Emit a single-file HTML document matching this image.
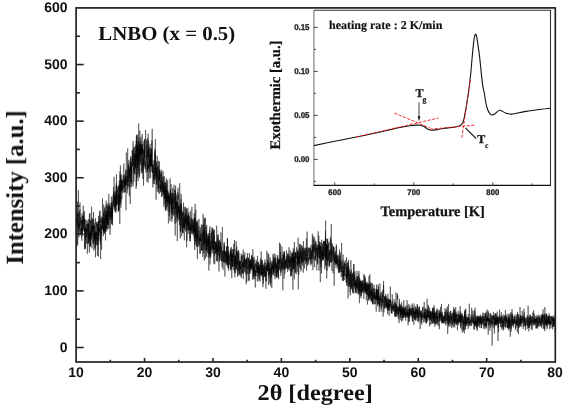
<!DOCTYPE html>
<html><head><meta charset="utf-8"><style>
html,body{margin:0;padding:0;background:#fff;overflow:hidden;}
svg{display:block;}
text{text-rendering:geometricPrecision;}
.sans{font-family:"Liberation Sans",sans-serif;font-weight:bold;}
.serif{font-family:"Liberation Serif",serif;font-weight:bold;}
</style></head><body>
<svg width="567" height="407" viewBox="0 0 567 407">
<defs><filter id="gs" x="0" y="0" width="567" height="407" filterUnits="userSpaceOnUse"><feColorMatrix type="saturate" values="0"/></filter></defs>
<rect width="567" height="407" fill="#fff"/>
<polyline points="76.1,219.0 76.4,228.3 76.6,219.3 76.9,225.0 77.2,219.1 77.5,211.8 77.7,244.7 78.0,224.2 78.3,220.1 78.6,226.7 78.8,237.5 79.1,228.2 79.4,223.0 79.7,224.1 79.9,234.0 80.2,235.0 80.5,227.7 80.8,234.6 81.0,226.0 81.3,220.5 81.6,223.1 81.8,237.3 82.1,219.4 82.4,231.9 82.7,230.3 82.9,219.9 83.2,228.3 83.5,229.4 83.8,229.5 84.0,230.5 84.3,228.0 84.6,219.0 84.9,238.8 85.1,247.6 85.4,228.1 85.7,234.5 86.0,231.2 86.2,224.1 86.5,229.8 86.8,236.4 87.0,229.8 87.3,253.8 87.6,246.3 87.9,223.3 88.1,229.8 88.4,219.2 88.7,233.5 89.0,236.6 89.2,239.4 89.5,233.1 89.8,238.5 90.1,232.0 90.3,246.4 90.6,239.5 90.9,236.9 91.2,234.1 91.4,225.8 91.7,237.9 92.0,233.7 92.2,219.2 92.5,232.4 92.8,226.3 93.1,231.9 93.3,228.3 93.6,225.5 93.9,228.2 94.2,223.3 94.4,240.9 94.7,227.0 95.0,247.4 95.3,240.7 95.5,257.4 95.8,231.7 96.1,243.0 96.4,244.9 96.6,232.4 96.9,239.1 97.2,229.7 97.5,229.7 97.7,223.7 98.0,245.2 98.3,231.8 98.5,221.0 98.8,241.0 99.1,237.2 99.4,229.8 99.6,220.7 99.9,230.4 100.2,225.1 100.5,224.2 100.7,240.5 101.0,236.9 101.3,231.9 101.6,249.6 101.8,226.8 102.1,228.6 102.4,227.0 102.7,229.3 102.9,220.4 103.2,227.9 103.5,213.4 103.7,230.6 104.0,219.7 104.3,233.5 104.6,226.7 104.8,221.0 105.1,228.3 105.4,217.7 105.7,214.7 105.9,220.4 106.2,200.6 106.5,228.0 106.8,226.4 107.0,211.1 107.3,214.3 107.6,224.7 107.9,205.6 108.1,224.7 108.4,217.1 108.7,217.4 108.9,214.7 109.2,208.0 109.5,206.6 109.8,205.3 110.0,228.7 110.3,206.9 110.6,219.8 110.9,211.6 111.1,217.2 111.4,196.6 111.7,208.7 112.0,224.6 112.2,207.8 112.5,225.4 112.8,200.8 113.1,201.6 113.3,196.8 113.6,191.9 113.9,206.6 114.1,176.8 114.4,207.6 114.7,204.0 115.0,190.9 115.2,205.4 115.5,205.8 115.8,212.8 116.1,185.6 116.3,206.0 116.6,201.1 116.9,193.0 117.2,190.5 117.4,196.5 117.7,195.0 118.0,195.5 118.3,211.8 118.5,193.3 118.8,206.3 119.1,188.3 119.3,185.4 119.6,205.0 119.9,171.4 120.2,191.1 120.4,165.5 120.7,204.0 121.0,178.8 121.3,191.3 121.5,181.2 121.8,199.2 122.1,194.4 122.4,191.5 122.6,190.0 122.9,186.7 123.2,185.2 123.5,186.0 123.7,191.2 124.0,192.6 124.3,180.1 124.5,192.4 124.8,179.2 125.1,180.1 125.4,185.9 125.6,178.4 125.9,184.3 126.2,184.4 126.5,175.9 126.7,181.8 127.0,172.6 127.3,171.9 127.6,170.0 127.8,189.4 128.1,164.8 128.4,164.0 128.7,167.7 128.9,178.0 129.2,170.3 129.5,172.9 129.7,177.7 130.0,169.5 130.3,170.3 130.6,158.8 130.8,163.7 131.1,161.8 131.4,187.2 131.7,184.3 131.9,157.4 132.2,165.8 132.5,166.3 132.8,150.2 133.0,161.3 133.3,163.9 133.6,164.8 133.9,147.9 134.1,172.9 134.4,154.6 134.7,170.1 134.9,173.5 135.2,153.7 135.5,161.2 135.8,167.5 136.0,151.1 136.3,156.6 136.6,155.0 136.9,160.2 137.1,134.3 137.4,138.1 137.7,153.9 138.0,181.1 138.2,163.0 138.5,146.6 138.8,164.5 139.1,141.0 139.3,157.6 139.6,176.3 139.9,130.6 140.2,148.2 140.4,156.6 140.7,145.1 141.0,136.8 141.2,173.1 141.5,149.5 141.8,170.9 142.1,158.0 142.3,173.6 142.6,145.8 142.9,179.0 143.2,159.7 143.4,148.7 143.7,155.8 144.0,161.5 144.3,155.0 144.5,142.4 144.8,138.9 145.1,158.3 145.4,156.6 145.6,130.0 145.9,150.6 146.2,157.7 146.4,155.1 146.7,155.3 147.0,181.8 147.3,150.5 147.5,171.8 147.8,164.0 148.1,182.7 148.4,164.8 148.6,140.5 148.9,169.4 149.2,153.9 149.5,160.9 149.7,161.4 150.0,154.0 150.3,157.0 150.6,178.1 150.8,158.9 151.1,161.0 151.4,166.1 151.6,162.3 151.9,171.8 152.2,128.8 152.5,172.6 152.7,170.7 153.0,177.5 153.3,183.7 153.6,170.4 153.8,160.3 154.1,176.6 154.4,184.1 154.7,167.8 154.9,158.7 155.2,148.6 155.5,172.2 155.8,180.2 156.0,172.4 156.3,170.4 156.6,167.8 156.8,171.8 157.1,184.8 157.4,166.9 157.7,178.8 157.9,188.5 158.2,187.8 158.5,188.3 158.8,170.9 159.0,180.8 159.3,178.7 159.6,169.0 159.9,178.3 160.1,173.6 160.4,191.4 160.7,175.3 161.0,171.0 161.2,184.8 161.5,169.7 161.8,171.3 162.0,187.9 162.3,189.4 162.6,192.0 162.9,192.6 163.1,186.7 163.4,176.9 163.7,177.5 164.0,195.5 164.2,176.0 164.5,197.9 164.8,182.6 165.1,184.0 165.3,210.6 165.6,181.6 165.9,187.4 166.2,208.2 166.4,194.3 166.7,183.3 167.0,189.5 167.2,197.0 167.5,202.0 167.8,189.9 168.1,191.6 168.3,193.8 168.6,203.8 168.9,196.6 169.2,216.2 169.4,193.7 169.7,200.5 170.0,221.0 170.3,206.0 170.5,190.7 170.8,203.1 171.1,184.2 171.4,209.0 171.6,193.0 171.9,221.9 172.2,205.9 172.4,215.0 172.7,187.9 173.0,205.9 173.3,208.6 173.5,208.2 173.8,216.3 174.1,209.5 174.4,189.5 174.6,191.6 174.9,206.7 175.2,235.6 175.5,207.9 175.7,207.8 176.0,206.6 176.3,204.4 176.6,200.5 176.8,195.6 177.1,206.4 177.4,219.1 177.7,214.3 177.9,201.8 178.2,221.2 178.5,211.6 178.7,206.4 179.0,212.4 179.3,219.1 179.6,219.8 179.8,210.7 180.1,226.6 180.4,231.9 180.7,205.3 180.9,198.9 181.2,218.2 181.5,203.4 181.8,208.8 182.0,215.1 182.3,215.5 182.6,233.0 182.9,218.1 183.1,222.6 183.4,224.9 183.7,227.8 183.9,212.9 184.2,240.4 184.5,240.1 184.8,223.2 185.0,219.4 185.3,221.3 185.6,218.2 185.9,223.9 186.1,212.9 186.4,222.1 186.7,219.0 187.0,240.8 187.2,215.3 187.5,224.0 187.8,224.2 188.1,224.4 188.3,234.0 188.6,212.1 188.9,219.0 189.1,230.2 189.4,219.6 189.7,216.5 190.0,238.5 190.2,227.7 190.5,231.2 190.8,223.9 191.1,219.7 191.3,231.2 191.6,214.7 191.9,206.9 192.2,225.1 192.4,219.5 192.7,226.2 193.0,224.9 193.3,232.7 193.5,229.4 193.8,218.5 194.1,233.2 194.3,218.3 194.6,217.0 194.9,244.7 195.2,235.8 195.4,218.6 195.7,232.5 196.0,235.7 196.3,245.1 196.5,230.3 196.8,221.9 197.1,236.7 197.4,259.1 197.6,220.5 197.9,242.1 198.2,233.2 198.5,229.3 198.7,224.6 199.0,218.9 199.3,232.7 199.5,231.0 199.8,234.6 200.1,247.5 200.4,253.3 200.6,233.7 200.9,240.9 201.2,238.4 201.5,250.4 201.7,233.4 202.0,233.3 202.3,232.9 202.6,240.1 202.8,256.9 203.1,213.8 203.4,246.0 203.7,230.7 203.9,232.6 204.2,219.0 204.5,244.8 204.7,226.6 205.0,242.4 205.3,238.9 205.6,240.7 205.8,240.6 206.1,242.8 206.4,244.0 206.7,224.9 206.9,251.1 207.2,234.0 207.5,246.7 207.8,235.8 208.0,236.4 208.3,258.0 208.6,244.1 208.9,237.5 209.1,249.6 209.4,235.8 209.7,252.5 209.9,257.2 210.2,252.0 210.5,243.0 210.8,240.8 211.0,244.3 211.3,241.4 211.6,231.6 211.9,246.0 212.1,250.2 212.4,239.8 212.7,243.7 213.0,228.5 213.2,248.1 213.5,231.5 213.8,250.3 214.1,250.4 214.3,235.6 214.6,242.8 214.9,244.3 215.1,241.3 215.4,243.5 215.7,244.2 216.0,253.7 216.2,243.4 216.5,241.0 216.8,249.8 217.1,260.8 217.3,261.5 217.6,250.4 217.9,249.0 218.2,253.4 218.4,234.6 218.7,259.2 219.0,271.5 219.3,253.5 219.5,257.3 219.8,239.8 220.1,251.9 220.4,251.7 220.6,255.0 220.9,232.5 221.2,247.2 221.4,257.7 221.7,261.3 222.0,250.5 222.3,252.9 222.5,255.6 222.8,260.0 223.1,269.8 223.4,259.2 223.6,254.2 223.9,247.2 224.2,242.0 224.5,245.1 224.7,253.2 225.0,263.2 225.3,263.3 225.6,261.9 225.8,260.8 226.1,252.5 226.4,264.5 226.6,247.6 226.9,246.2 227.2,265.9 227.5,238.1 227.7,260.9 228.0,255.7 228.3,246.5 228.6,268.2 228.8,260.5 229.1,260.5 229.4,259.0 229.7,264.2 229.9,261.0 230.2,258.3 230.5,248.6 230.8,249.6 231.0,269.1 231.3,262.3 231.6,253.3 231.8,263.0 232.1,266.6 232.4,253.8 232.7,265.5 232.9,249.1 233.2,257.6 233.5,252.2 233.8,250.5 234.0,258.9 234.3,262.1 234.6,256.0 234.9,277.3 235.1,266.3 235.4,255.1 235.7,272.8 236.0,253.7 236.2,241.1 236.5,264.2 236.8,246.6 237.0,255.1 237.3,251.5 237.6,276.9 237.9,265.5 238.1,266.4 238.4,257.8 238.7,251.4 239.0,255.7 239.2,266.3 239.5,262.5 239.8,273.6 240.1,260.7 240.3,269.1 240.6,276.2 240.9,266.9 241.2,272.9 241.4,278.0 241.7,270.6 242.0,271.7 242.2,262.4 242.5,266.9 242.8,254.5 243.1,251.6 243.3,249.5 243.6,257.4 243.9,254.6 244.2,263.4 244.4,257.6 244.7,268.0 245.0,272.7 245.3,271.7 245.5,261.8 245.8,259.1 246.1,268.1 246.4,263.6 246.6,258.3 246.9,262.3 247.2,264.4 247.4,253.0 247.7,266.5 248.0,269.0 248.3,267.5 248.5,257.5 248.8,262.9 249.1,262.3 249.4,266.6 249.6,262.7 249.9,273.6 250.2,261.3 250.5,260.6 250.7,267.5 251.0,266.0 251.3,264.0 251.6,267.6 251.8,270.1 252.1,264.1 252.4,265.1 252.6,265.9 252.9,249.0 253.2,272.6 253.5,268.1 253.7,276.4 254.0,266.9 254.3,273.4 254.6,265.4 254.8,269.2 255.1,275.3 255.4,263.7 255.7,265.8 255.9,264.7 256.2,263.4 256.5,272.9 256.8,276.0 257.0,274.4 257.3,281.5 257.6,274.2 257.9,263.2 258.1,273.5 258.4,277.3 258.7,267.3 258.9,273.6 259.2,268.1 259.5,268.6 259.8,268.8 260.0,272.3 260.3,275.2 260.6,275.0 260.9,263.0 261.1,264.5 261.4,275.9 261.7,267.3 262.0,265.1 262.2,259.8 262.5,269.9 262.8,264.9 263.1,278.6 263.3,283.8 263.6,272.0 263.9,274.9 264.1,274.6 264.4,272.0 264.7,264.7 265.0,259.4 265.2,276.7 265.5,271.7 265.8,274.2 266.1,276.5 266.3,281.3 266.6,275.3 266.9,250.7 267.2,264.7 267.4,264.1 267.7,270.9 268.0,253.0 268.3,274.9 268.5,285.1 268.8,254.4 269.1,266.0 269.3,262.4 269.6,268.3 269.9,278.2 270.2,276.4 270.4,269.5 270.7,265.8 271.0,260.6 271.3,277.9 271.5,270.8 271.8,288.1 272.1,263.7 272.4,267.8 272.6,264.8 272.9,254.1 273.2,261.1 273.5,273.6 273.7,256.6 274.0,264.1 274.3,258.2 274.5,265.0 274.8,258.0 275.1,279.1 275.4,271.9 275.6,257.9 275.9,273.5 276.2,271.1 276.5,277.9 276.7,266.3 277.0,270.4 277.3,277.2 277.6,266.3 277.8,254.9 278.1,271.4 278.4,278.1 278.7,264.3 278.9,259.8 279.2,268.2 279.5,242.7 279.7,263.2 280.0,259.7 280.3,256.9 280.6,252.3 280.8,275.8 281.1,268.7 281.4,266.8 281.7,264.3 281.9,246.4 282.2,269.3 282.5,261.8 282.8,254.9 283.0,254.4 283.3,260.4 283.6,254.9 283.9,263.4 284.1,278.7 284.4,251.6 284.7,267.7 284.9,273.8 285.2,266.7 285.5,265.1 285.8,265.6 286.0,268.7 286.3,259.7 286.6,266.4 286.9,266.8 287.1,261.3 287.4,254.5 287.7,267.0 288.0,269.1 288.2,261.3 288.5,269.4 288.8,254.6 289.1,263.6 289.3,267.6 289.6,262.1 289.9,261.4 290.1,256.0 290.4,265.7 290.7,263.1 291.0,257.0 291.2,258.6 291.5,275.8 291.8,257.8 292.1,272.2 292.3,255.3 292.6,252.9 292.9,289.8 293.2,253.8 293.4,258.6 293.7,268.6 294.0,250.5 294.3,268.1 294.5,258.8 294.8,261.7 295.1,261.4 295.3,252.5 295.6,263.2 295.9,265.6 296.2,274.3 296.4,266.8 296.7,260.0 297.0,255.5 297.3,253.8 297.5,265.9 297.8,260.2 298.1,237.7 298.4,251.6 298.6,261.5 298.9,263.6 299.2,257.2 299.5,267.9 299.7,244.3 300.0,249.7 300.3,248.3 300.6,255.4 300.8,267.2 301.1,271.5 301.4,267.1 301.6,255.6 301.9,263.3 302.2,253.2 302.5,261.2 302.7,256.6 303.0,250.9 303.3,272.7 303.6,254.8 303.8,255.4 304.1,248.7 304.4,252.0 304.7,253.3 304.9,248.0 305.2,247.7 305.5,254.3 305.8,255.9 306.0,248.1 306.3,255.8 306.6,270.7 306.8,259.4 307.1,231.6 307.4,256.0 307.7,254.3 307.9,257.0 308.2,262.1 308.5,257.2 308.8,264.5 309.0,252.1 309.3,249.1 309.6,250.1 309.9,248.7 310.1,251.1 310.4,253.2 310.7,245.5 311.0,254.3 311.2,258.3 311.5,253.1 311.8,253.0 312.0,249.1 312.3,233.6 312.6,240.1 312.9,270.1 313.1,246.2 313.4,251.5 313.7,253.3 314.0,260.6 314.2,256.8 314.5,267.2 314.8,262.1 315.1,244.0 315.3,249.8 315.6,258.0 315.9,247.3 316.2,249.8 316.4,249.6 316.7,248.8 317.0,245.9 317.2,247.2 317.5,264.3 317.8,248.0 318.1,256.0 318.3,257.2 318.6,245.3 318.9,248.5 319.2,258.3 319.4,246.4 319.7,254.1 320.0,246.5 320.3,246.8 320.5,247.6 320.8,251.1 321.1,242.7 321.4,261.7 321.6,252.3 321.9,254.7 322.2,258.7 322.4,256.0 322.7,252.7 323.0,260.3 323.3,244.3 323.5,243.2 323.8,241.1 324.1,246.1 324.4,245.3 324.6,241.5 324.9,256.1 325.2,256.6 325.5,231.0 325.7,264.8 326.0,244.3 326.3,257.8 326.6,244.3 326.8,247.1 327.1,270.8 327.4,255.7 327.6,239.2 327.9,243.0 328.2,259.7 328.5,256.7 328.7,248.8 329.0,267.3 329.3,261.9 329.6,266.1 329.8,252.5 330.1,255.9 330.4,236.9 330.7,246.4 330.9,239.3 331.2,256.1 331.5,255.8 331.8,261.7 332.0,244.3 332.3,252.9 332.6,253.9 332.8,260.2 333.1,260.7 333.4,247.3 333.7,247.5 333.9,252.4 334.2,285.9 334.5,258.4 334.8,263.0 335.0,258.6 335.3,251.1 335.6,264.0 335.9,263.9 336.1,268.0 336.4,260.6 336.7,264.2 337.0,260.9 337.2,257.2 337.5,255.5 337.8,266.0 338.1,264.3 338.3,259.9 338.6,261.3 338.9,256.0 339.1,273.0 339.4,249.5 339.7,272.4 340.0,263.5 340.2,263.4 340.5,261.0 340.8,267.1 341.1,263.5 341.3,258.8 341.6,242.8 341.9,264.4 342.2,269.8 342.4,261.1 342.7,259.8 343.0,267.8 343.3,266.2 343.5,276.4 343.8,274.4 344.1,263.8 344.3,275.3 344.6,268.1 344.9,263.3 345.2,269.3 345.4,264.3 345.7,263.9 346.0,264.0 346.3,278.7 346.5,283.0 346.8,268.8 347.1,285.8 347.4,272.5 347.6,262.4 347.9,274.0 348.2,264.9 348.5,272.7 348.7,287.1 349.0,273.6 349.3,280.3 349.5,286.7 349.8,278.4 350.1,292.1 350.4,286.7 350.6,280.1 350.9,260.3 351.2,276.4 351.5,284.2 351.7,287.2 352.0,274.6 352.3,272.9 352.6,293.1 352.8,289.1 353.1,283.1 353.4,293.4 353.7,279.8 353.9,264.1 354.2,281.5 354.5,275.9 354.7,286.0 355.0,282.3 355.3,282.5 355.6,285.8 355.8,280.2 356.1,281.8 356.4,281.8 356.7,288.1 356.9,270.9 357.2,280.2 357.5,280.4 357.8,276.1 358.0,287.3 358.3,286.8 358.6,281.9 358.9,270.9 359.1,278.8 359.4,303.2 359.7,282.1 359.9,291.1 360.2,280.5 360.5,285.2 360.8,280.9 361.0,298.2 361.3,282.0 361.6,286.3 361.9,289.6 362.1,292.2 362.4,289.2 362.7,282.5 363.0,290.1 363.2,286.4 363.5,288.7 363.8,299.0 364.1,286.3 364.3,283.0 364.6,291.6 364.9,283.6 365.1,292.1 365.4,285.3 365.7,289.4 366.0,282.9 366.2,289.1 366.5,283.4 366.8,292.3 367.1,294.5 367.3,282.2 367.6,293.0 367.9,295.4 368.2,283.0 368.4,290.4 368.7,285.3 369.0,276.2 369.3,298.2 369.5,292.1 369.8,274.2 370.1,289.5 370.3,293.1 370.6,291.6 370.9,290.9 371.2,290.5 371.4,296.3 371.7,291.2 372.0,301.7 372.3,298.5 372.5,303.8 372.8,293.4 373.1,293.2 373.4,300.4 373.6,294.6 373.9,292.0 374.2,298.4 374.5,297.7 374.7,288.1 375.0,290.6 375.3,304.0 375.5,296.9 375.8,299.4 376.1,289.3 376.4,299.9 376.6,284.6 376.9,299.9 377.2,290.6 377.5,304.8 377.7,292.6 378.0,303.8 378.3,290.4 378.6,302.0 378.8,304.0 379.1,303.3 379.4,305.3 379.7,303.0 379.9,283.4 380.2,298.8 380.5,300.7 380.8,300.1 381.0,300.3 381.3,298.7 381.6,305.8 381.8,305.1 382.1,295.6 382.4,300.2 382.7,300.1 382.9,306.7 383.2,306.8 383.5,284.9 383.8,297.8 384.0,299.4 384.3,300.4 384.6,297.0 384.9,308.2 385.1,304.5 385.4,297.3 385.7,300.6 386.0,300.8 386.2,302.4 386.5,306.8 386.8,297.9 387.0,308.2 387.3,303.2 387.6,314.2 387.9,293.8 388.1,311.0 388.4,304.3 388.7,306.7 389.0,300.1 389.2,307.4 389.5,304.0 389.8,308.8 390.1,310.9 390.3,286.5 390.6,301.6 390.9,305.0 391.2,313.2 391.4,310.0 391.7,307.8 392.0,309.3 392.2,294.1 392.5,297.7 392.8,307.6 393.1,310.3 393.3,305.8 393.6,308.5 393.9,311.8 394.2,305.8 394.4,306.6 394.7,308.7 395.0,306.0 395.3,317.1 395.5,303.3 395.8,311.4 396.1,313.6 396.4,316.5 396.6,309.0 396.9,312.3 397.2,306.7 397.4,309.6 397.7,306.6 398.0,313.0 398.3,313.8 398.5,306.5 398.8,314.0 399.1,311.2 399.4,307.9 399.6,310.5 399.9,309.1 400.2,320.2 400.5,306.0 400.7,316.3 401.0,310.1 401.3,307.8 401.6,321.6 401.8,312.3 402.1,307.5 402.4,316.5 402.6,317.8 402.9,305.7 403.2,311.9 403.5,313.3 403.7,308.4 404.0,317.2 404.3,308.6 404.6,310.7 404.8,315.2 405.1,312.3 405.4,317.1 405.7,312.5 405.9,312.8 406.2,314.8 406.5,310.3 406.8,318.0 407.0,314.1 407.3,315.6 407.6,312.0 407.8,315.9 408.1,325.2 408.4,314.0 408.7,311.6 408.9,309.1 409.2,316.6 409.5,313.7 409.8,309.0 410.0,315.5 410.3,309.2 410.6,310.7 410.9,308.7 411.1,314.8 411.4,310.7 411.7,316.1 412.0,303.5 412.2,309.9 412.5,305.4 412.8,315.9 413.0,310.5 413.3,309.9 413.6,315.1 413.9,324.8 414.1,303.4 414.4,310.0 414.7,320.0 415.0,319.1 415.2,311.6 415.5,316.6 415.8,318.9 416.1,317.2 416.3,311.0 416.6,309.4 416.9,311.8 417.2,304.1 417.4,309.5 417.7,318.0 418.0,310.8 418.2,318.2 418.5,315.9 418.8,314.0 419.1,313.1 419.3,311.2 419.6,314.5 419.9,320.6 420.2,329.0 420.4,316.6 420.7,316.9 421.0,313.6 421.3,313.3 421.5,310.7 421.8,317.0 422.1,319.6 422.4,313.1 422.6,313.1 422.9,315.3 423.2,316.5 423.5,317.5 423.7,312.4 424.0,311.9 424.3,314.0 424.5,318.1 424.8,308.6 425.1,318.0 425.4,315.1 425.6,313.0 425.9,310.1 426.2,309.3 426.5,323.7 426.7,316.2 427.0,321.1 427.3,310.3 427.6,313.1 427.8,306.9 428.1,317.9 428.4,316.1 428.7,311.5 428.9,318.9 429.2,319.0 429.5,326.4 429.7,321.0 430.0,315.5 430.3,318.0 430.6,316.4 430.8,320.0 431.1,318.2 431.4,311.3 431.7,318.5 431.9,318.1 432.2,317.8 432.5,308.8 432.8,318.9 433.0,317.2 433.3,307.6 433.6,313.7 433.9,323.6 434.1,305.1 434.4,322.7 434.7,312.5 434.9,320.5 435.2,324.1 435.5,322.7 435.8,320.2 436.0,312.3 436.3,318.4 436.6,310.0 436.9,324.5 437.1,308.3 437.4,319.7 437.7,317.3 438.0,317.4 438.2,317.4 438.5,315.7 438.8,317.3 439.1,318.4 439.3,329.2 439.6,322.8 439.9,312.3 440.1,319.3 440.4,318.3 440.7,314.7 441.0,316.2 441.2,315.1 441.5,303.9 441.8,313.0 442.1,322.9 442.3,311.8 442.6,322.1 442.9,317.2 443.2,321.2 443.4,322.5 443.7,320.5 444.0,318.7 444.3,317.9 444.5,322.1 444.8,316.7 445.1,319.2 445.3,315.1 445.6,318.2 445.9,320.0 446.2,318.1 446.4,317.3 446.7,321.2 447.0,316.3 447.3,306.4 447.5,316.7 447.8,311.9 448.1,315.8 448.4,319.0 448.6,314.7 448.9,325.0 449.2,312.1 449.5,316.8 449.7,320.2 450.0,326.5 450.3,325.4 450.5,311.8 450.8,310.8 451.1,318.5 451.4,317.0 451.6,315.6 451.9,326.2 452.2,320.9 452.5,313.1 452.7,319.9 453.0,322.7 453.3,317.9 453.6,322.0 453.8,315.5 454.1,317.3 454.4,323.0 454.7,313.3 454.9,311.4 455.2,323.9 455.5,319.3 455.7,307.1 456.0,321.2 456.3,316.7 456.6,314.1 456.8,324.5 457.1,320.8 457.4,330.2 457.7,318.9 457.9,315.6 458.2,322.5 458.5,319.6 458.8,322.6 459.0,312.7 459.3,318.3 459.6,321.3 459.9,312.8 460.1,306.1 460.4,321.7 460.7,311.3 461.0,325.4 461.2,317.1 461.5,314.9 461.8,317.1 462.0,315.6 462.3,332.7 462.6,322.5 462.9,319.8 463.1,320.8 463.4,329.7 463.7,321.4 464.0,321.4 464.2,331.2 464.5,333.3 464.8,314.8 465.1,317.5 465.3,329.1 465.6,323.8 465.9,326.1 466.2,321.2 466.4,326.1 466.7,323.7 467.0,322.5 467.2,323.5 467.5,318.7 467.8,320.1 468.1,326.2 468.3,317.2 468.6,323.6 468.9,322.7 469.2,322.8 469.4,317.3 469.7,325.1 470.0,322.9 470.3,319.8 470.5,319.9 470.8,321.0 471.1,322.3 471.4,316.8 471.6,321.0 471.9,321.9 472.2,321.5 472.4,321.2 472.7,318.3 473.0,318.5 473.3,323.0 473.5,319.8 473.8,329.7 474.1,323.7 474.4,323.2 474.6,329.5 474.9,312.6 475.2,315.1 475.5,323.5 475.7,320.8 476.0,319.6 476.3,319.1 476.6,319.9 476.8,326.0 477.1,330.8 477.4,325.1 477.6,317.1 477.9,318.3 478.2,323.4 478.5,317.9 478.7,315.9 479.0,325.8 479.3,316.0 479.6,321.2 479.8,318.9 480.1,322.3 480.4,314.4 480.7,323.6 480.9,317.8 481.2,328.2 481.5,321.6 481.8,321.0 482.0,315.8 482.3,319.3 482.6,321.7 482.8,321.7 483.1,322.8 483.4,324.8 483.7,319.1 483.9,318.7 484.2,322.4 484.5,325.0 484.8,329.3 485.0,324.9 485.3,326.6 485.6,312.7 485.9,327.5 486.1,317.8 486.4,321.6 486.7,317.8 487.0,322.7 487.2,317.2 487.5,321.1 487.8,319.3 488.0,321.2 488.3,312.5 488.6,314.5 488.9,320.7 489.1,318.8 489.4,322.3 489.7,322.2 490.0,321.5 490.2,327.9 490.5,322.1 490.8,320.1 491.1,322.8 491.3,318.1 491.6,320.9 491.9,320.9 492.2,324.1 492.4,323.9 492.7,324.4 493.0,322.3 493.2,323.9 493.5,322.7 493.8,328.3 494.1,320.4 494.3,318.9 494.6,326.4 494.9,318.6 495.2,321.0 495.4,324.2 495.7,319.6 496.0,326.2 496.3,325.8 496.5,322.0 496.8,319.9 497.1,324.1 497.4,316.2 497.6,324.0 497.9,317.2 498.2,327.8 498.4,319.5 498.7,321.9 499.0,322.3 499.3,318.9 499.5,309.7 499.8,313.5 500.1,316.2 500.4,317.2 500.6,322.1 500.9,323.3 501.2,321.4 501.5,329.2 501.7,316.0 502.0,316.2 502.3,322.6 502.6,322.4 502.8,321.5 503.1,322.0 503.4,320.9 503.7,329.8 503.9,324.9 504.2,324.1 504.5,326.6 504.7,320.0 505.0,319.2 505.3,316.7 505.6,322.3 505.8,328.2 506.1,315.2 506.4,322.1 506.7,322.0 506.9,317.7 507.2,328.1 507.5,327.9 507.8,319.5 508.0,325.2 508.3,328.1 508.6,317.1 508.9,323.2 509.1,325.6 509.4,318.2 509.7,326.5 509.9,326.4 510.2,326.1 510.5,327.2 510.8,323.2 511.0,320.7 511.3,323.8 511.6,328.6 511.9,326.6 512.1,321.9 512.4,315.9 512.7,322.0 513.0,325.5 513.2,321.3 513.5,327.3 513.8,324.4 514.1,321.2 514.3,315.4 514.6,320.0 514.9,316.9 515.1,318.9 515.4,330.0 515.7,326.8 516.0,314.1 516.2,317.2 516.5,319.9 516.8,325.4 517.1,320.9 517.3,332.0 517.6,319.8 517.9,314.1 518.2,322.9 518.4,334.1 518.7,322.5 519.0,322.5 519.3,322.2 519.5,318.9 519.8,323.7 520.1,322.8 520.3,320.5 520.6,315.0 520.9,321.1 521.2,318.1 521.4,320.2 521.7,326.9 522.0,323.1 522.3,322.5 522.5,318.8 522.8,321.9 523.1,322.9 523.4,316.8 523.6,321.7 523.9,308.6 524.2,317.2 524.5,322.0 524.7,317.8 525.0,318.3 525.3,325.6 525.5,320.6 525.8,321.7 526.1,323.5 526.4,319.6 526.6,317.3 526.9,317.9 527.2,320.0 527.5,323.0 527.7,325.1 528.0,321.3 528.3,321.1 528.6,316.7 528.8,331.4 529.1,321.9 529.4,325.4 529.7,323.3 529.9,316.8 530.2,325.5 530.5,314.8 530.7,325.2 531.0,321.4 531.3,329.2 531.6,321.9 531.8,316.4 532.1,318.8 532.4,317.3 532.7,318.7 532.9,322.0 533.2,320.8 533.5,323.1 533.8,323.8 534.0,318.9 534.3,316.6 534.6,318.9 534.9,323.4 535.1,319.2 535.4,320.9 535.7,324.9 535.9,322.3 536.2,318.6 536.5,321.0 536.8,323.2 537.0,321.9 537.3,320.4 537.6,323.9 537.9,316.3 538.1,319.2 538.4,318.7 538.7,318.2 539.0,317.5 539.2,323.6 539.5,316.0 539.8,322.1 540.1,321.5 540.3,318.2 540.6,325.9 540.9,320.1 541.2,315.6 541.4,323.0 541.7,325.3 542.0,313.7 542.2,320.7 542.5,322.5 542.8,322.0 543.1,309.3 543.3,317.8 543.6,314.8 543.9,325.1 544.2,320.5 544.4,316.4 544.7,320.2 545.0,315.8 545.3,324.7 545.5,322.4 545.8,313.8 546.1,325.9 546.4,324.6 546.6,313.2 546.9,324.7 547.2,319.1 547.4,327.3 547.7,324.9 548.0,320.8 548.3,323.4 548.5,323.5 548.8,318.2 549.1,313.3 549.4,316.7 549.6,324.1 549.9,324.2 550.2,324.9 550.5,316.4 550.7,318.1 551.0,316.5 551.3,324.1 551.6,319.8 551.8,315.9 552.1,323.1 552.4,323.2 552.6,329.3 552.9,320.1 553.2,318.3 553.5,322.1 553.7,315.2 554.0,324.3 554.3,319.8 554.6,317.8 554.8,320.9 555.1,315.9" fill="none" stroke="#000" stroke-opacity="0.72" stroke-width="0.6" stroke-linejoin="round"/>
<polyline points="76.2,211.0 76.5,222.5 76.7,219.7 77.0,246.2 77.3,218.6 77.6,201.4 77.8,222.2 78.1,221.0 78.4,190.2 78.7,231.0 78.9,223.2 79.2,228.7 79.5,225.7 79.7,226.2 80.0,202.5 80.3,215.6 80.6,222.4 80.8,217.2 81.1,223.6 81.4,223.3 81.7,219.6 81.9,213.6 82.2,226.2 82.5,234.4 82.8,214.8 83.0,210.7 83.3,205.6 83.6,224.5 83.9,223.2 84.1,212.4 84.4,231.7 84.7,227.4 85.0,232.7 85.2,234.6 85.5,249.0 85.8,240.3 86.0,219.6 86.3,238.5 86.6,243.4 86.9,232.8 87.1,220.7 87.4,231.4 87.7,228.8 88.0,224.3 88.2,243.5 88.5,240.3 88.8,223.4 89.1,231.8 89.3,252.5 89.6,232.0 89.9,212.9 90.2,246.3 90.4,233.8 90.7,220.1 91.0,240.2 91.2,230.2 91.5,232.6 91.8,224.3 92.1,226.9 92.3,225.9 92.6,234.5 92.9,232.9 93.2,243.6 93.4,244.4 93.7,219.5 94.0,230.0 94.3,225.8 94.5,237.3 94.8,233.1 95.1,249.1 95.4,218.1 95.6,229.7 95.9,240.6 96.2,236.9 96.4,223.5 96.7,222.6 97.0,235.6 97.3,245.8 97.5,233.7 97.8,235.5 98.1,224.4 98.4,256.6 98.6,241.9 98.9,229.7 99.2,228.9 99.5,211.8 99.7,223.4 100.0,210.4 100.3,219.8 100.6,259.1 100.8,246.6 101.1,225.2 101.4,228.1 101.6,228.3 101.9,217.5 102.2,223.6 102.5,198.5 102.7,224.1 103.0,226.6 103.3,236.3 103.6,228.2 103.8,232.6 104.1,210.0 104.4,232.1 104.7,220.9 104.9,219.1 105.2,214.3 105.5,240.4 105.8,205.8 106.0,230.6 106.3,231.4 106.6,213.8 106.8,228.5 107.1,226.0 107.4,221.3 107.7,214.7 107.9,207.1 108.2,224.8 108.5,224.9 108.8,194.1 109.0,216.7 109.3,205.0 109.6,212.2 109.9,220.3 110.1,202.8 110.4,216.7 110.7,212.2 111.0,211.7 111.2,208.1 111.5,209.4 111.8,202.4 112.0,210.0 112.3,220.4 112.6,198.4 112.9,198.3 113.1,195.2 113.4,195.9 113.7,202.2 114.0,204.9 114.2,198.8 114.5,197.1 114.8,199.8 115.1,196.3 115.3,207.4 115.6,198.6 115.9,202.0 116.2,205.6 116.4,183.3 116.7,204.4 117.0,189.1 117.2,186.3 117.5,191.3 117.8,190.2 118.1,204.5 118.3,199.1 118.6,209.9 118.9,204.9 119.2,210.4 119.4,193.6 119.7,193.6 120.0,184.5 120.3,189.3 120.5,198.4 120.8,201.7 121.1,192.7 121.4,186.5 121.6,180.1 121.9,184.3 122.2,188.9 122.4,180.9 122.7,192.8 123.0,181.2 123.3,178.1 123.5,175.3 123.8,188.1 124.1,176.0 124.4,174.4 124.6,185.3 124.9,182.9 125.2,184.7 125.5,180.6 125.7,171.2 126.0,210.3 126.3,152.6 126.6,161.1 126.8,161.9 127.1,169.2 127.4,182.8 127.7,148.4 127.9,181.8 128.2,180.3 128.5,181.1 128.7,165.7 129.0,173.8 129.3,196.1 129.6,168.6 129.8,186.9 130.1,161.6 130.4,173.3 130.7,181.6 130.9,162.5 131.2,182.7 131.5,170.1 131.8,184.2 132.0,163.2 132.3,166.2 132.6,153.3 132.9,166.6 133.1,186.4 133.4,168.3 133.7,172.0 133.9,181.9 134.2,172.3 134.5,160.3 134.8,153.8 135.0,167.1 135.3,165.9 135.6,162.5 135.9,144.5 136.1,189.0 136.4,135.6 136.7,148.9 137.0,161.3 137.2,145.1 137.5,167.9 137.8,141.5 138.1,153.1 138.3,170.6 138.6,157.8 138.9,137.7 139.1,161.1 139.4,152.1 139.7,145.6 140.0,146.0 140.2,144.5 140.5,164.8 140.8,140.9 141.1,141.8 141.3,152.4 141.6,149.1 141.9,152.6 142.2,154.2 142.4,153.7 142.7,144.0 143.0,165.5 143.3,162.6 143.5,185.7 143.8,161.9 144.1,150.2 144.3,158.6 144.6,146.0 144.9,166.1 145.2,167.8 145.4,161.3 145.7,162.3 146.0,172.8 146.3,164.4 146.5,139.9 146.8,154.7 147.1,168.6 147.4,170.6 147.6,157.9 147.9,147.2 148.2,133.6 148.5,156.3 148.7,146.6 149.0,156.3 149.3,147.4 149.5,164.8 149.8,172.3 150.1,143.7 150.4,159.9 150.6,165.0 150.9,152.4 151.2,164.8 151.5,152.5 151.7,149.5 152.0,157.7 152.3,167.8 152.6,170.0 152.8,164.4 153.1,163.9 153.4,165.4 153.7,168.4 153.9,177.8 154.2,175.0 154.5,179.4 154.7,151.1 155.0,176.2 155.3,153.9 155.6,180.0 155.8,182.8 156.1,199.7 156.4,161.5 156.7,166.1 156.9,176.5 157.2,155.7 157.5,169.0 157.8,171.9 158.0,165.9 158.3,179.5 158.6,192.7 158.9,176.5 159.1,176.7 159.4,180.2 159.7,170.4 159.9,187.8 160.2,185.1 160.5,189.3 160.8,183.9 161.0,189.4 161.3,186.2 161.6,196.7 161.9,181.7 162.1,192.0 162.4,183.0 162.7,186.2 163.0,181.7 163.2,194.9 163.5,185.5 163.8,187.4 164.1,189.0 164.3,199.3 164.6,186.3 164.9,204.0 165.2,185.3 165.4,188.2 165.7,195.8 166.0,209.4 166.2,190.7 166.5,199.0 166.8,198.2 167.1,203.6 167.3,190.5 167.6,206.7 167.9,194.1 168.2,200.9 168.4,223.4 168.7,221.5 169.0,209.8 169.3,196.1 169.5,203.6 169.8,211.9 170.1,178.4 170.4,197.6 170.6,197.8 170.9,199.0 171.2,204.0 171.4,213.7 171.7,198.9 172.0,204.4 172.3,200.7 172.5,195.0 172.8,210.5 173.1,208.9 173.4,207.2 173.6,193.3 173.9,214.6 174.2,210.0 174.5,213.1 174.7,203.1 175.0,223.8 175.3,212.4 175.6,185.7 175.8,207.7 176.1,204.4 176.4,215.2 176.6,211.4 176.9,202.4 177.2,218.4 177.5,207.5 177.7,208.5 178.0,187.8 178.3,199.4 178.6,194.5 178.8,214.2 179.1,206.3 179.4,225.0 179.7,217.1 179.9,208.7 180.2,238.4 180.5,204.3 180.8,206.4 181.0,210.5 181.3,206.5 181.6,227.1 181.8,209.9 182.1,220.6 182.4,225.2 182.7,232.1 182.9,212.3 183.2,233.5 183.5,202.6 183.8,215.0 184.0,225.0 184.3,228.4 184.6,216.5 184.9,226.2 185.1,229.8 185.4,206.6 185.7,224.3 186.0,223.5 186.2,224.1 186.5,209.1 186.8,220.2 187.0,221.3 187.3,230.3 187.6,210.1 187.9,207.7 188.1,230.7 188.4,229.9 188.7,214.1 189.0,216.2 189.2,217.8 189.5,222.2 189.8,223.0 190.1,230.3 190.3,210.7 190.6,218.9 190.9,220.8 191.2,220.8 191.4,218.0 191.7,229.1 192.0,219.4 192.2,225.2 192.5,229.7 192.8,234.6 193.1,226.1 193.3,230.0 193.6,225.2 193.9,236.5 194.2,213.2 194.4,216.9 194.7,250.0 195.0,228.8 195.3,223.0 195.5,237.3 195.8,209.7 196.1,235.3 196.4,235.0 196.6,221.2 196.9,239.2 197.2,229.5 197.4,230.1 197.7,236.7 198.0,239.7 198.3,237.4 198.5,232.4 198.8,226.2 199.1,235.3 199.4,244.9 199.6,237.7 199.9,254.0 200.2,227.3 200.5,228.5 200.7,237.7 201.0,240.9 201.3,236.8 201.6,250.4 201.8,245.4 202.1,237.9 202.4,235.5 202.6,237.0 202.9,232.4 203.2,224.5 203.5,226.6 203.7,240.3 204.0,230.1 204.3,260.7 204.6,232.3 204.8,233.3 205.1,241.6 205.4,258.7 205.7,234.8 205.9,234.6 206.2,231.4 206.5,245.1 206.8,249.3 207.0,245.8 207.3,244.1 207.6,241.2 207.9,237.7 208.1,243.4 208.4,233.0 208.7,253.2 208.9,241.2 209.2,244.6 209.5,229.5 209.8,243.0 210.0,264.5 210.3,246.8 210.6,255.4 210.9,233.6 211.1,242.1 211.4,243.5 211.7,251.3 212.0,253.4 212.2,246.7 212.5,244.1 212.8,242.3 213.1,252.8 213.3,253.3 213.6,246.5 213.9,247.2 214.1,253.4 214.4,256.3 214.7,247.8 215.0,242.2 215.2,243.8 215.5,247.3 215.8,249.6 216.1,253.2 216.3,243.3 216.6,260.5 216.9,258.8 217.2,244.3 217.4,234.8 217.7,251.4 218.0,238.1 218.3,243.5 218.5,246.3 218.8,249.2 219.1,256.5 219.3,261.7 219.6,250.8 219.9,247.0 220.2,259.9 220.4,252.5 220.7,242.6 221.0,260.5 221.3,255.4 221.5,261.0 221.8,258.3 222.1,267.4 222.4,251.1 222.6,256.1 222.9,262.2 223.2,260.1 223.5,260.7 223.7,250.0 224.0,262.6 224.3,251.6 224.5,262.0 224.8,250.7 225.1,251.8 225.4,254.9 225.6,251.2 225.9,262.5 226.2,252.3 226.5,253.7 226.7,255.2 227.0,264.7 227.3,258.6 227.6,255.3 227.8,264.5 228.1,261.1 228.4,254.2 228.7,258.6 228.9,251.7 229.2,259.8 229.5,258.6 229.7,265.2 230.0,264.1 230.3,262.2 230.6,251.1 230.8,269.4 231.1,261.4 231.4,246.9 231.7,260.7 231.9,255.6 232.2,260.4 232.5,267.1 232.8,255.7 233.0,248.9 233.3,268.8 233.6,270.0 233.9,266.5 234.1,259.1 234.4,273.1 234.7,258.6 234.9,267.1 235.2,257.2 235.5,255.9 235.8,262.2 236.0,266.2 236.3,269.0 236.6,264.6 236.9,261.9 237.1,261.0 237.4,257.3 237.7,253.5 238.0,275.4 238.2,256.5 238.5,250.0 238.8,253.9 239.1,268.3 239.3,273.5 239.6,260.9 239.9,266.5 240.1,260.5 240.4,264.3 240.7,269.3 241.0,263.5 241.2,253.6 241.5,259.6 241.8,255.5 242.1,267.6 242.3,267.8 242.6,262.9 242.9,274.0 243.2,272.0 243.4,272.7 243.7,267.6 244.0,261.8 244.3,271.8 244.5,258.9 244.8,252.4 245.1,263.4 245.4,267.5 245.6,259.7 245.9,265.6 246.2,284.3 246.4,266.9 246.7,257.9 247.0,257.1 247.3,262.1 247.5,268.8 247.8,262.7 248.1,260.9 248.4,258.5 248.6,263.5 248.9,280.3 249.2,260.3 249.5,270.2 249.7,274.0 250.0,260.7 250.3,259.4 250.6,267.6 250.8,265.0 251.1,268.0 251.4,255.9 251.6,268.3 251.9,263.0 252.2,267.0 252.5,279.6 252.7,273.6 253.0,258.9 253.3,276.3 253.6,279.2 253.8,270.3 254.1,256.7 254.4,258.7 254.7,279.3 254.9,273.2 255.2,270.2 255.5,276.4 255.8,270.8 256.0,273.1 256.3,273.1 256.6,261.5 256.8,261.6 257.1,272.6 257.4,266.0 257.7,274.2 257.9,261.6 258.2,273.0 258.5,262.3 258.8,261.9 259.0,270.1 259.3,279.3 259.6,268.1 259.9,274.6 260.1,281.5 260.4,264.7 260.7,267.0 261.0,260.8 261.2,251.2 261.5,268.4 261.8,274.0 262.0,266.2 262.3,273.9 262.6,271.3 262.9,287.2 263.1,282.3 263.4,264.6 263.7,270.8 264.0,272.7 264.2,263.0 264.5,277.1 264.8,276.3 265.1,268.8 265.3,266.1 265.6,268.4 265.9,281.2 266.2,265.8 266.4,269.3 266.7,275.4 267.0,268.1 267.2,268.2 267.5,271.0 267.8,260.1 268.1,269.0 268.3,263.2 268.6,276.2 268.9,269.1 269.2,265.4 269.4,277.3 269.7,283.3 270.0,275.1 270.3,268.4 270.5,270.1 270.8,282.8 271.1,268.0 271.4,269.5 271.6,265.8 271.9,273.4 272.2,274.9 272.4,270.0 272.7,266.0 273.0,274.7 273.3,267.7 273.5,268.9 273.8,264.8 274.1,276.4 274.4,264.8 274.6,268.6 274.9,265.6 275.2,264.0 275.5,267.2 275.7,263.6 276.0,276.4 276.3,273.1 276.6,262.6 276.8,267.8 277.1,259.2 277.4,261.8 277.6,265.7 277.9,271.6 278.2,270.8 278.5,259.0 278.7,258.7 279.0,263.2 279.3,270.3 279.6,267.5 279.8,261.4 280.1,263.4 280.4,243.9 280.7,269.8 280.9,257.3 281.2,267.8 281.5,271.0 281.8,271.0 282.0,259.6 282.3,263.6 282.6,266.0 282.8,265.4 283.1,268.3 283.4,263.0 283.7,267.4 283.9,270.0 284.2,262.4 284.5,251.4 284.8,269.6 285.0,263.6 285.3,260.6 285.6,262.5 285.9,266.4 286.1,256.4 286.4,263.3 286.7,258.3 287.0,266.6 287.2,266.6 287.5,268.7 287.8,253.1 288.1,261.1 288.3,256.4 288.6,261.1 288.9,263.1 289.1,260.5 289.4,267.2 289.7,258.8 290.0,263.0 290.2,250.4 290.5,258.3 290.8,260.9 291.1,258.7 291.3,262.0 291.6,261.0 291.9,253.9 292.2,265.9 292.4,260.2 292.7,256.6 293.0,260.8 293.3,248.2 293.5,262.9 293.8,257.0 294.1,257.8 294.3,279.4 294.6,256.7 294.9,268.0 295.2,266.2 295.4,255.1 295.7,252.4 296.0,258.2 296.3,250.1 296.5,247.3 296.8,259.0 297.1,256.5 297.4,250.1 297.6,264.3 297.9,255.9 298.2,251.6 298.5,262.4 298.7,261.6 299.0,264.1 299.3,263.8 299.5,258.6 299.8,252.9 300.1,243.7 300.4,258.4 300.6,250.3 300.9,245.1 301.2,254.2 301.5,250.7 301.7,261.1 302.0,256.9 302.3,251.0 302.6,246.7 302.8,265.9 303.1,260.3 303.4,241.1 303.7,248.9 303.9,247.6 304.2,260.2 304.5,254.1 304.7,251.4 305.0,260.8 305.3,253.5 305.6,257.8 305.8,264.1 306.1,258.4 306.4,238.7 306.7,238.9 306.9,262.7 307.2,257.0 307.5,265.6 307.8,257.7 308.0,248.1 308.3,248.4 308.6,251.0 308.9,258.0 309.1,258.5 309.4,259.1 309.7,259.6 309.9,247.8 310.2,249.9 310.5,249.1 310.8,259.8 311.0,263.9 311.3,254.8 311.6,251.4 311.9,259.3 312.1,244.2 312.4,256.1 312.7,256.7 313.0,249.6 313.2,235.9 313.5,252.5 313.8,250.3 314.1,250.7 314.3,239.5 314.6,237.4 314.9,249.5 315.1,248.0 315.4,253.6 315.7,260.4 316.0,241.6 316.2,244.7 316.5,244.0 316.8,270.2 317.1,244.8 317.3,246.9 317.6,256.7 317.9,244.0 318.2,231.3 318.4,243.8 318.7,244.2 319.0,270.7 319.3,252.8 319.5,241.7 319.8,258.8 320.1,242.1 320.3,282.2 320.6,246.3 320.9,248.0 321.2,257.3 321.4,250.6 321.7,239.8 322.0,244.5 322.3,255.0 322.5,243.6 322.8,259.4 323.1,251.6 323.4,253.8 323.6,256.0 323.9,241.2 324.2,244.5 324.5,244.6 324.7,243.5 325.0,250.6 325.3,238.5 325.6,249.9 325.8,244.6 326.1,260.5 326.4,259.2 326.6,246.9 326.9,245.5 327.2,261.1 327.5,246.4 327.7,250.4 328.0,251.2 328.3,247.9 328.6,243.1 328.8,248.4 329.1,241.7 329.4,251.2 329.7,253.5 329.9,251.2 330.2,254.1 330.5,262.6 330.8,261.4 331.0,238.5 331.3,224.0 331.6,245.2 331.8,255.0 332.1,242.9 332.4,249.3 332.7,252.9 332.9,259.1 333.2,273.4 333.5,246.0 333.8,252.4 334.0,257.1 334.3,262.4 334.6,258.8 334.9,252.9 335.1,265.1 335.4,259.2 335.7,263.3 336.0,258.5 336.2,244.3 336.5,245.0 336.8,264.5 337.0,255.8 337.3,260.5 337.6,267.6 337.9,268.7 338.1,269.8 338.4,263.8 338.7,267.7 339.0,262.9 339.2,265.7 339.5,258.7 339.8,262.1 340.1,259.4 340.3,255.1 340.6,268.6 340.9,265.8 341.2,266.7 341.4,269.5 341.7,271.9 342.0,270.8 342.2,266.9 342.5,276.9 342.8,273.8 343.1,254.6 343.3,263.8 343.6,280.7 343.9,270.6 344.2,261.8 344.4,271.2 344.7,275.6 345.0,262.2 345.3,259.8 345.5,273.5 345.8,275.2 346.1,282.3 346.4,279.4 346.6,257.4 346.9,285.7 347.2,271.4 347.4,278.7 347.7,271.5 348.0,262.6 348.3,276.4 348.5,270.5 348.8,266.9 349.1,270.8 349.4,274.2 349.6,282.5 349.9,274.6 350.2,278.1 350.5,273.2 350.7,272.1 351.0,276.0 351.3,288.7 351.6,283.6 351.8,276.1 352.1,274.8 352.4,276.2 352.6,275.2 352.9,276.8 353.2,276.7 353.5,272.0 353.7,285.9 354.0,285.2 354.3,281.6 354.6,274.1 354.8,278.6 355.1,293.3 355.4,283.8 355.7,290.1 355.9,281.0 356.2,280.7 356.5,293.2 356.8,279.7 357.0,291.7 357.3,293.4 357.6,277.4 357.8,289.5 358.1,282.6 358.4,294.9 358.7,285.0 358.9,293.1 359.2,277.3 359.5,285.7 359.8,282.9 360.0,281.4 360.3,283.5 360.6,296.3 360.9,287.2 361.1,283.9 361.4,283.8 361.7,293.4 362.0,280.6 362.2,283.2 362.5,286.4 362.8,285.9 363.0,292.5 363.3,291.4 363.6,283.4 363.9,285.7 364.1,275.6 364.4,276.4 364.7,292.8 365.0,294.0 365.2,293.4 365.5,278.4 365.8,291.6 366.1,289.7 366.3,300.4 366.6,283.5 366.9,291.5 367.2,284.8 367.4,304.6 367.7,300.5 368.0,297.5 368.3,290.2 368.5,295.5 368.8,284.1 369.1,298.4 369.3,297.9 369.6,283.9 369.9,286.5 370.2,294.8 370.4,299.4 370.7,290.7 371.0,291.5 371.3,301.9 371.5,292.0 371.8,283.1 372.1,299.2 372.4,290.8 372.6,304.3 372.9,297.7 373.2,296.5 373.5,289.2 373.7,291.0 374.0,294.6 374.3,296.4 374.5,294.3 374.8,298.3 375.1,295.2 375.4,295.6 375.6,299.4 375.9,297.3 376.2,311.7 376.5,289.0 376.7,299.2 377.0,298.7 377.3,296.3 377.6,294.1 377.8,295.7 378.1,300.7 378.4,287.0 378.7,296.8 378.9,302.1 379.2,312.0 379.5,297.7 379.7,307.3 380.0,299.1 380.3,299.7 380.6,305.1 380.8,304.7 381.1,311.7 381.4,308.6 381.7,300.9 381.9,303.0 382.2,298.6 382.5,295.6 382.8,289.8 383.0,297.7 383.3,289.7 383.6,280.9 383.9,312.3 384.1,303.5 384.4,302.7 384.7,308.5 384.9,298.4 385.2,296.5 385.5,296.7 385.8,306.2 386.0,304.3 386.3,295.8 386.6,306.9 386.9,303.1 387.1,306.7 387.4,305.4 387.7,304.9 388.0,298.2 388.2,306.6 388.5,308.5 388.8,299.1 389.1,315.9 389.3,303.8 389.6,299.0 389.9,308.1 390.1,307.5 390.4,304.8 390.7,300.6 391.0,302.0 391.2,307.4 391.5,305.5 391.8,314.0 392.1,311.3 392.3,307.0 392.6,309.7 392.9,310.1 393.2,304.9 393.4,304.7 393.7,304.2 394.0,308.9 394.3,309.7 394.5,315.6 394.8,304.3 395.1,316.9 395.3,310.1 395.6,302.4 395.9,308.1 396.2,304.2 396.4,307.3 396.7,312.4 397.0,310.3 397.3,293.3 397.5,299.2 397.8,295.3 398.1,315.0 398.4,318.8 398.6,313.3 398.9,313.0 399.2,310.6 399.5,303.3 399.7,311.1 400.0,308.0 400.3,318.0 400.5,310.1 400.8,308.6 401.1,315.0 401.4,308.6 401.6,302.3 401.9,311.6 402.2,317.7 402.5,309.6 402.7,320.6 403.0,309.0 403.3,314.4 403.6,318.1 403.8,300.3 404.1,311.9 404.4,313.7 404.7,308.0 404.9,310.5 405.2,315.3 405.5,306.0 405.8,309.1 406.0,310.8 406.3,312.3 406.6,315.3 406.8,312.6 407.1,305.4 407.4,316.6 407.7,311.7 407.9,308.8 408.2,311.1 408.5,322.0 408.8,303.9 409.0,311.2 409.3,312.0 409.6,321.6 409.9,305.4 410.1,311.3 410.4,309.8 410.7,308.4 411.0,309.9 411.2,313.6 411.5,309.9 411.8,308.2 412.0,312.6 412.3,314.2 412.6,321.3 412.9,319.9 413.1,308.3 413.4,313.4 413.7,311.0 414.0,314.6 414.2,317.7 414.5,312.1 414.8,315.0 415.1,308.6 415.3,316.3 415.6,320.5 415.9,310.8 416.2,317.9 416.4,313.1 416.7,311.2 417.0,314.0 417.2,315.1 417.5,304.7 417.8,314.8 418.1,310.2 418.3,307.3 418.6,307.5 418.9,320.5 419.2,307.3 419.4,306.3 419.7,313.6 420.0,313.2 420.3,315.5 420.5,314.3 420.8,315.5 421.1,317.8 421.4,315.9 421.6,314.3 421.9,324.8 422.2,312.2 422.4,314.6 422.7,316.0 423.0,317.4 423.3,317.2 423.5,321.0 423.8,322.4 424.1,316.3 424.4,318.9 424.6,315.2 424.9,321.8 425.2,312.6 425.5,315.6 425.7,319.7 426.0,314.9 426.3,316.5 426.6,309.9 426.8,322.4 427.1,298.8 427.4,312.6 427.6,315.1 427.9,312.6 428.2,317.9 428.5,305.0 428.7,312.3 429.0,317.3 429.3,315.5 429.6,307.6 429.8,317.7 430.1,310.6 430.4,317.3 430.7,324.7 430.9,323.0 431.2,318.1 431.5,321.2 431.8,311.9 432.0,312.3 432.3,314.5 432.6,307.6 432.8,323.6 433.1,320.6 433.4,317.2 433.7,311.9 433.9,321.7 434.2,308.2 434.5,309.3 434.8,319.9 435.0,316.4 435.3,315.9 435.6,324.0 435.9,323.4 436.1,311.1 436.4,315.2 436.7,314.4 437.0,322.5 437.2,317.0 437.5,318.7 437.8,322.1 438.0,318.6 438.3,318.2 438.6,316.8 438.9,316.3 439.1,309.7 439.4,321.3 439.7,312.6 440.0,310.3 440.2,312.1 440.5,315.9 440.8,314.4 441.1,312.5 441.3,321.7 441.6,322.6 441.9,320.3 442.2,320.9 442.4,317.4 442.7,321.5 443.0,319.9 443.2,316.9 443.5,319.1 443.8,315.0 444.1,315.4 444.3,316.7 444.6,318.9 444.9,311.9 445.2,315.6 445.4,323.2 445.7,321.3 446.0,310.6 446.3,315.7 446.5,315.8 446.8,308.8 447.1,315.6 447.4,320.8 447.6,320.3 447.9,318.3 448.2,323.7 448.5,315.7 448.7,326.9 449.0,320.9 449.3,319.9 449.5,319.3 449.8,321.5 450.1,320.9 450.4,311.0 450.6,316.7 450.9,321.5 451.2,315.0 451.5,319.8 451.7,313.2 452.0,321.7 452.3,323.8 452.6,320.3 452.8,317.0 453.1,311.4 453.4,313.5 453.7,306.9 453.9,317.4 454.2,315.2 454.5,312.8 454.7,327.4 455.0,314.6 455.3,321.4 455.6,318.3 455.8,321.8 456.1,312.3 456.4,324.7 456.7,320.3 456.9,322.3 457.2,324.2 457.5,314.2 457.8,316.2 458.0,310.8 458.3,313.1 458.6,321.8 458.9,319.8 459.1,318.6 459.4,319.2 459.7,315.3 459.9,319.1 460.2,320.5 460.5,322.5 460.8,318.6 461.0,321.2 461.3,329.7 461.6,316.5 461.9,319.7 462.1,320.4 462.4,314.4 462.7,322.9 463.0,322.9 463.2,318.3 463.5,331.4 463.8,320.9 464.1,324.2 464.3,313.5 464.6,311.5 464.9,323.5 465.1,314.0 465.4,324.1 465.7,308.6 466.0,310.8 466.2,324.2 466.5,319.3 466.8,318.3 467.1,323.1 467.3,320.8 467.6,317.3 467.9,319.9 468.2,314.0 468.4,318.1 468.7,319.0 469.0,319.1 469.3,303.7 469.5,316.1 469.8,326.6 470.1,321.1 470.3,319.5 470.6,319.5 470.9,322.0 471.2,325.7 471.4,324.3 471.7,307.7 472.0,323.3 472.3,321.6 472.5,321.6 472.8,314.8 473.1,319.1 473.4,324.2 473.6,316.7 473.9,318.8 474.2,323.4 474.5,321.0 474.7,327.0 475.0,322.4 475.3,321.1 475.5,325.9 475.8,316.9 476.1,325.0 476.4,323.1 476.6,328.0 476.9,317.1 477.2,326.7 477.5,316.5 477.7,318.8 478.0,320.3 478.3,326.6 478.6,324.5 478.8,318.2 479.1,322.1 479.4,321.5 479.7,323.8 479.9,316.2 480.2,321.5 480.5,324.4 480.7,316.3 481.0,319.4 481.3,323.3 481.6,323.8 481.8,318.0 482.1,318.4 482.4,317.5 482.7,317.5 482.9,318.0 483.2,322.6 483.5,316.4 483.8,328.7 484.0,319.0 484.3,325.4 484.6,319.4 484.9,319.0 485.1,326.1 485.4,324.0 485.7,323.0 486.0,325.7 486.2,312.6 486.5,316.6 486.8,325.3 487.0,309.5 487.3,316.6 487.6,321.0 487.9,317.1 488.1,310.7 488.4,317.9 488.7,325.7 489.0,318.1 489.2,322.1 489.5,324.6 489.8,316.0 490.1,313.3 490.3,320.5 490.6,321.5 490.9,319.5 491.2,316.1 491.4,324.5 491.7,314.5 492.0,326.8 492.2,317.0 492.5,315.7 492.8,322.8 493.1,315.5 493.3,319.4 493.6,311.9 493.9,320.0 494.2,325.8 494.4,333.5 494.7,318.2 495.0,318.6 495.3,322.4 495.5,313.0 495.8,324.9 496.1,315.7 496.4,324.5 496.6,323.0 496.9,314.1 497.2,311.6 497.4,322.6 497.7,317.6 498.0,341.1 498.3,319.9 498.5,317.5 498.8,318.6 499.1,318.3 499.4,314.5 499.6,320.2 499.9,321.3 500.2,316.4 500.5,326.9 500.7,322.4 501.0,322.8 501.3,318.9 501.6,317.2 501.8,321.9 502.1,327.7 502.4,323.1 502.6,316.1 502.9,327.5 503.2,314.4 503.5,319.2 503.7,321.3 504.0,320.6 504.3,324.3 504.6,315.3 504.8,320.6 505.1,319.2 505.4,310.1 505.7,323.0 505.9,323.7 506.2,316.7 506.5,321.3 506.8,319.2 507.0,324.4 507.3,324.0 507.6,327.4 507.8,323.2 508.1,319.1 508.4,316.7 508.7,324.3 508.9,320.2 509.2,314.7 509.5,328.7 509.8,318.4 510.0,319.0 510.3,336.8 510.6,321.2 510.9,320.0 511.1,331.8 511.4,315.4 511.7,319.8 512.0,320.5 512.2,324.2 512.5,313.7 512.8,324.4 513.0,323.5 513.3,321.3 513.6,319.0 513.9,322.6 514.1,324.1 514.4,318.2 514.7,319.9 515.0,323.7 515.2,320.0 515.5,320.8 515.8,322.2 516.1,321.4 516.3,318.8 516.6,322.0 516.9,324.1 517.2,323.6 517.4,318.0 517.7,316.3 518.0,314.2 518.2,323.2 518.5,327.9 518.8,320.0 519.1,317.5 519.3,323.1 519.6,327.5 519.9,325.1 520.2,315.8 520.4,326.4 520.7,317.0 521.0,322.5 521.3,324.1 521.5,321.5 521.8,318.6 522.1,319.2 522.4,315.2 522.6,317.7 522.9,320.1 523.2,318.3 523.4,315.7 523.7,318.4 524.0,322.7 524.3,315.7 524.5,312.3 524.8,325.8 525.1,317.6 525.4,330.5 525.6,328.1 525.9,318.5 526.2,321.2 526.5,320.9 526.7,321.0 527.0,327.1 527.3,329.0 527.6,316.7 527.8,326.0 528.1,305.7 528.4,323.5 528.7,319.1 528.9,321.2 529.2,328.1 529.5,326.1 529.7,314.5 530.0,320.8 530.3,316.5 530.6,322.3 530.8,321.5 531.1,322.6 531.4,316.7 531.7,317.1 531.9,326.5 532.2,330.1 532.5,319.4 532.8,312.5 533.0,326.3 533.3,322.0 533.6,320.6 533.9,319.4 534.1,325.4 534.4,318.5 534.7,324.5 534.9,318.8 535.2,321.2 535.5,319.2 535.8,315.8 536.0,319.1 536.3,323.2 536.6,328.3 536.9,317.0 537.1,327.5 537.4,318.0 537.7,321.9 538.0,324.7 538.2,327.0 538.5,323.4 538.8,318.6 539.1,317.5 539.3,321.3 539.6,321.9 539.9,323.9 540.1,322.0 540.4,320.8 540.7,325.8 541.0,324.1 541.2,319.3 541.5,319.0 541.8,318.2 542.1,317.1 542.3,324.2 542.6,314.0 542.9,323.1 543.2,329.1 543.4,315.9 543.7,321.4 544.0,326.4 544.3,323.1 544.5,313.8 544.8,331.2 545.1,321.8 545.3,322.9 545.6,321.1 545.9,324.9 546.2,315.2 546.4,315.9 546.7,322.7 547.0,329.1 547.3,322.4 547.5,317.9 547.8,322.6 548.1,315.9 548.4,324.4 548.6,316.2 548.9,324.3 549.2,322.0 549.5,316.1 549.7,329.2 550.0,320.9 550.3,323.4 550.5,321.4 550.8,327.4 551.1,328.2 551.4,319.6 551.6,319.8 551.9,316.3 552.2,319.8 552.5,320.9 552.7,317.2 553.0,325.7 553.3,320.9 553.6,326.3 553.8,318.5 554.1,319.6 554.4,326.0 554.7,321.3 554.9,331.9" fill="none" stroke="#000" stroke-opacity="0.72" stroke-width="0.6" stroke-linejoin="round"/>
<polyline points="76.3,232.9 76.6,215.3 76.8,223.2 77.1,227.4 77.4,222.9 77.7,215.4 77.9,215.3 78.2,215.8 78.5,213.7 78.7,234.8 79.0,231.9 79.3,211.8 79.6,226.6 79.8,209.5 80.1,222.0 80.4,222.2 80.7,226.4 80.9,221.0 81.2,234.3 81.5,226.7 81.8,240.8 82.0,226.0 82.3,221.3 82.6,215.8 82.9,229.1 83.1,230.6 83.4,216.3 83.7,227.9 83.9,225.5 84.2,210.9 84.5,249.4 84.8,219.1 85.0,220.0 85.3,235.7 85.6,239.6 85.9,228.1 86.1,233.4 86.4,231.8 86.7,237.2 87.0,229.7 87.2,229.2 87.5,224.4 87.8,224.3 88.1,243.8 88.3,236.5 88.6,229.9 88.9,242.5 89.1,237.3 89.4,214.1 89.7,230.7 90.0,235.0 90.2,246.5 90.5,233.5 90.8,238.9 91.1,220.9 91.3,223.8 91.6,206.6 91.9,248.3 92.2,217.9 92.4,224.7 92.7,231.6 93.0,243.4 93.3,234.8 93.5,212.0 93.8,250.7 94.1,233.1 94.3,238.1 94.6,230.1 94.9,236.7 95.2,241.3 95.4,243.5 95.7,231.9 96.0,242.7 96.3,221.8 96.5,225.5 96.8,224.7 97.1,225.8 97.4,255.7 97.6,226.2 97.9,221.6 98.2,233.9 98.5,215.9 98.7,236.1 99.0,228.0 99.3,231.3 99.5,228.9 99.8,232.4 100.1,227.3 100.4,244.3 100.6,218.7 100.9,222.7 101.2,216.5 101.5,234.3 101.7,224.6 102.0,226.6 102.3,217.6 102.6,225.8 102.8,230.7 103.1,218.2 103.4,224.6 103.7,204.5 103.9,217.9 104.2,233.9 104.5,207.6 104.7,218.7 105.0,218.6 105.3,220.4 105.6,231.7 105.8,210.6 106.1,221.9 106.4,215.5 106.7,222.6 106.9,204.2 107.2,230.3 107.5,212.3 107.8,215.8 108.0,203.3 108.3,228.9 108.6,211.7 108.9,212.3 109.1,217.1 109.4,222.1 109.7,223.2 110.0,234.8 110.2,226.8 110.5,214.3 110.8,211.8 111.0,211.2 111.3,207.7 111.6,223.9 111.9,203.0 112.1,216.8 112.4,210.8 112.7,212.3 113.0,206.2 113.2,200.3 113.5,187.1 113.8,206.3 114.1,206.7 114.3,210.2 114.6,200.6 114.9,194.1 115.2,212.1 115.4,203.7 115.7,192.4 116.0,197.5 116.2,210.5 116.5,174.1 116.8,204.9 117.1,196.8 117.3,197.5 117.6,195.3 117.9,203.5 118.2,187.7 118.4,211.1 118.7,185.2 119.0,201.1 119.3,180.6 119.5,193.0 119.8,224.0 120.1,186.1 120.4,175.4 120.6,185.2 120.9,207.7 121.2,184.5 121.4,191.1 121.7,174.4 122.0,182.5 122.3,182.5 122.5,189.7 122.8,179.2 123.1,183.4 123.4,171.1 123.6,168.0 123.9,163.6 124.2,186.8 124.5,184.6 124.7,184.4 125.0,176.3 125.3,183.9 125.6,191.9 125.8,169.1 126.1,175.8 126.4,177.3 126.6,185.6 126.9,181.9 127.2,193.4 127.5,185.0 127.7,184.3 128.0,176.5 128.3,186.7 128.6,173.7 128.8,159.9 129.1,177.3 129.4,171.9 129.7,171.4 129.9,166.8 130.2,204.2 130.5,156.0 130.8,163.2 131.0,175.3 131.3,164.8 131.6,174.1 131.8,164.6 132.1,149.9 132.4,156.1 132.7,161.8 132.9,146.9 133.2,141.2 133.5,169.7 133.8,155.4 134.0,146.7 134.3,164.7 134.6,168.0 134.9,174.5 135.1,146.4 135.4,168.7 135.7,163.3 136.0,163.8 136.2,140.1 136.5,186.0 136.8,135.0 137.0,177.9 137.3,156.5 137.6,148.5 137.9,174.2 138.1,162.4 138.4,153.3 138.7,123.4 139.0,161.7 139.2,177.6 139.5,154.5 139.8,144.2 140.1,157.2 140.3,143.8 140.6,161.6 140.9,160.2 141.2,146.4 141.4,152.5 141.7,144.1 142.0,154.8 142.2,134.0 142.5,156.0 142.8,166.6 143.1,171.5 143.3,158.6 143.6,166.3 143.9,141.4 144.2,146.4 144.4,139.3 144.7,165.6 145.0,159.5 145.3,169.4 145.5,165.5 145.8,158.3 146.1,159.3 146.4,160.0 146.6,155.8 146.9,144.4 147.2,153.4 147.4,138.1 147.7,157.7 148.0,150.2 148.3,151.6 148.5,168.4 148.8,163.4 149.1,178.7 149.4,157.5 149.6,161.4 149.9,166.6 150.2,158.9 150.5,166.9 150.7,148.0 151.0,167.0 151.3,149.3 151.6,165.1 151.8,140.3 152.1,168.0 152.4,172.8 152.7,165.5 152.9,187.4 153.2,181.2 153.5,171.2 153.7,167.4 154.0,172.2 154.3,179.2 154.6,176.9 154.8,152.8 155.1,150.2 155.4,139.2 155.7,173.8 155.9,163.3 156.2,170.6 156.5,184.5 156.8,169.5 157.0,179.1 157.3,191.7 157.6,175.0 157.9,178.4 158.1,174.1 158.4,160.8 158.7,183.4 158.9,188.0 159.2,194.0 159.5,161.5 159.8,186.9 160.0,186.3 160.3,192.4 160.6,179.8 160.9,182.5 161.1,173.1 161.4,175.9 161.7,175.0 162.0,196.7 162.2,176.8 162.5,191.3 162.8,185.9 163.1,171.2 163.3,196.5 163.6,199.1 163.9,206.9 164.1,183.0 164.4,192.0 164.7,192.1 165.0,191.2 165.2,196.7 165.5,197.0 165.8,186.6 166.1,210.6 166.3,178.3 166.6,187.4 166.9,201.7 167.2,197.8 167.4,190.8 167.7,179.9 168.0,211.3 168.3,195.3 168.5,198.5 168.8,192.5 169.1,201.5 169.3,195.7 169.6,201.2 169.9,203.9 170.2,204.2 170.4,189.9 170.7,197.7 171.0,205.8 171.3,201.6 171.5,201.6 171.8,219.2 172.1,217.5 172.4,193.0 172.6,203.2 172.9,197.1 173.2,208.8 173.5,202.6 173.7,198.4 174.0,184.8 174.3,201.0 174.5,203.0 174.8,196.4 175.1,208.7 175.4,190.4 175.6,209.1 175.9,193.1 176.2,222.6 176.5,201.1 176.7,213.0 177.0,217.5 177.3,241.1 177.6,207.5 177.8,192.0 178.1,211.8 178.4,207.0 178.7,210.9 178.9,213.1 179.2,204.3 179.5,217.0 179.7,183.2 180.0,217.7 180.3,218.5 180.6,225.2 180.8,230.2 181.1,193.9 181.4,213.8 181.7,236.4 181.9,216.0 182.2,216.3 182.5,213.8 182.8,212.3 183.0,211.9 183.3,223.2 183.6,227.4 183.9,227.1 184.1,207.1 184.4,207.5 184.7,227.3 184.9,224.0 185.2,218.2 185.5,214.8 185.8,231.5 186.0,215.5 186.3,208.2 186.6,247.2 186.9,221.6 187.1,224.2 187.4,225.7 187.7,215.7 188.0,225.0 188.2,215.8 188.5,223.9 188.8,227.9 189.1,220.9 189.3,224.6 189.6,226.8 189.9,241.5 190.1,221.5 190.4,241.1 190.7,224.3 191.0,225.4 191.2,230.2 191.5,233.7 191.8,225.8 192.1,233.6 192.3,225.6 192.6,229.3 192.9,222.1 193.2,231.2 193.4,231.0 193.7,232.6 194.0,220.1 194.3,240.6 194.5,229.2 194.8,231.3 195.1,203.9 195.4,235.3 195.6,241.8 195.9,239.9 196.2,234.9 196.4,247.1 196.7,230.2 197.0,223.6 197.3,229.0 197.5,239.1 197.8,246.4 198.1,235.4 198.4,240.0 198.6,246.6 198.9,238.3 199.2,233.3 199.5,237.5 199.7,240.9 200.0,238.8 200.3,238.0 200.6,237.8 200.8,241.2 201.1,229.4 201.4,224.4 201.6,236.5 201.9,235.3 202.2,225.1 202.5,250.7 202.7,244.3 203.0,236.5 203.3,230.3 203.6,253.2 203.8,249.7 204.1,236.5 204.4,217.7 204.7,221.6 204.9,249.7 205.2,235.8 205.5,217.9 205.8,235.9 206.0,251.1 206.3,227.0 206.6,256.7 206.8,240.0 207.1,240.7 207.4,253.3 207.7,253.1 207.9,246.2 208.2,241.9 208.5,235.5 208.8,270.5 209.0,249.0 209.3,255.3 209.6,248.5 209.9,226.3 210.1,253.9 210.4,244.3 210.7,257.9 211.0,252.1 211.2,242.5 211.5,241.1 211.8,227.3 212.0,248.6 212.3,236.5 212.6,228.2 212.9,249.1 213.1,240.9 213.4,230.2 213.7,263.7 214.0,246.4 214.2,249.4 214.5,229.7 214.8,264.3 215.1,248.2 215.3,241.8 215.6,253.7 215.9,246.8 216.2,244.1 216.4,251.9 216.7,225.7 217.0,238.0 217.2,261.2 217.5,247.6 217.8,245.9 218.1,255.7 218.3,241.5 218.6,250.4 218.9,245.5 219.2,248.3 219.4,240.6 219.7,250.8 220.0,252.6 220.3,252.4 220.5,241.8 220.8,243.6 221.1,252.5 221.4,246.9 221.6,251.7 221.9,257.0 222.2,237.2 222.4,227.0 222.7,247.3 223.0,249.4 223.3,260.8 223.5,253.4 223.8,246.4 224.1,243.6 224.4,254.6 224.6,245.6 224.9,276.6 225.2,256.2 225.5,255.4 225.7,252.8 226.0,261.1 226.3,260.4 226.6,246.9 226.8,261.1 227.1,262.5 227.4,238.4 227.6,247.1 227.9,268.2 228.2,254.5 228.5,250.8 228.7,270.7 229.0,255.8 229.3,257.3 229.6,255.4 229.8,254.3 230.1,259.2 230.4,259.0 230.7,248.9 230.9,270.7 231.2,251.0 231.5,259.9 231.8,278.3 232.0,266.7 232.3,264.0 232.6,257.7 232.9,253.5 233.1,266.3 233.4,260.2 233.7,249.0 233.9,243.8 234.2,257.4 234.5,240.0 234.8,263.0 235.0,266.2 235.3,255.4 235.6,268.0 235.9,265.8 236.1,249.4 236.4,266.3 236.7,270.1 237.0,251.2 237.2,259.9 237.5,264.5 237.8,259.8 238.1,268.1 238.3,271.1 238.6,252.9 238.9,260.0 239.1,275.5 239.4,274.8 239.7,265.9 240.0,268.9 240.2,269.3 240.5,267.3 240.8,268.1 241.1,262.0 241.3,256.6 241.6,274.0 241.9,267.1 242.2,255.1 242.4,273.0 242.7,269.3 243.0,263.3 243.3,279.2 243.5,258.5 243.8,266.1 244.1,256.1 244.3,267.5 244.6,258.9 244.9,262.3 245.2,265.7 245.4,266.2 245.7,269.7 246.0,274.4 246.3,266.6 246.5,259.2 246.8,281.8 247.1,271.6 247.4,267.9 247.6,274.2 247.9,267.6 248.2,264.0 248.5,264.7 248.7,274.9 249.0,281.2 249.3,253.0 249.5,257.1 249.8,271.9 250.1,259.6 250.4,270.6 250.6,268.1 250.9,260.4 251.2,264.5 251.5,260.3 251.7,254.8 252.0,269.6 252.3,256.9 252.6,267.4 252.8,258.7 253.1,257.9 253.4,273.6 253.7,276.4 253.9,260.3 254.2,267.1 254.5,265.1 254.7,275.0 255.0,274.6 255.3,287.6 255.6,267.2 255.8,263.9 256.1,259.6 256.4,268.9 256.7,266.6 256.9,269.6 257.2,272.1 257.5,255.9 257.8,268.6 258.0,265.8 258.3,270.3 258.6,269.5 258.9,280.9 259.1,265.6 259.4,269.4 259.7,264.6 259.9,274.6 260.2,264.7 260.5,258.4 260.8,274.7 261.0,274.4 261.3,260.3 261.6,260.6 261.9,276.5 262.1,260.8 262.4,273.3 262.7,271.6 263.0,280.0 263.2,267.9 263.5,267.5 263.8,273.0 264.1,267.9 264.3,276.5 264.6,270.7 264.9,269.4 265.1,262.4 265.4,268.0 265.7,280.7 266.0,288.8 266.2,274.5 266.5,264.9 266.8,271.7 267.1,262.1 267.3,271.2 267.6,270.7 267.9,269.5 268.2,269.4 268.4,269.5 268.7,266.0 269.0,273.2 269.3,271.9 269.5,268.0 269.8,275.1 270.1,257.5 270.3,269.5 270.6,286.2 270.9,272.5 271.2,262.8 271.4,264.9 271.7,271.6 272.0,272.4 272.3,261.2 272.5,268.5 272.8,269.6 273.1,262.9 273.4,261.2 273.6,272.3 273.9,269.2 274.2,253.2 274.5,269.4 274.7,271.8 275.0,268.6 275.3,267.7 275.6,257.3 275.8,254.7 276.1,266.3 276.4,268.5 276.6,265.2 276.9,276.0 277.2,268.2 277.5,256.5 277.7,272.7 278.0,266.0 278.3,269.6 278.6,279.2 278.8,261.3 279.1,259.8 279.4,264.2 279.7,258.7 279.9,263.7 280.2,267.8 280.5,272.3 280.8,271.6 281.0,272.5 281.3,268.9 281.6,267.5 281.8,261.4 282.1,268.7 282.4,258.5 282.7,283.1 282.9,290.2 283.2,251.6 283.5,264.5 283.8,258.8 284.0,254.1 284.3,255.8 284.6,258.7 284.9,269.4 285.1,260.7 285.4,263.4 285.7,260.2 286.0,268.1 286.2,263.4 286.5,250.6 286.8,258.2 287.0,263.2 287.3,265.6 287.6,271.8 287.9,262.4 288.1,255.2 288.4,261.6 288.7,252.4 289.0,247.2 289.2,254.8 289.5,255.9 289.8,271.0 290.1,261.0 290.3,260.4 290.6,276.6 290.9,260.7 291.2,276.0 291.4,273.2 291.7,252.5 292.0,256.0 292.2,266.5 292.5,269.4 292.8,258.5 293.1,251.9 293.3,258.2 293.6,269.6 293.9,266.4 294.2,253.1 294.4,241.9 294.7,267.0 295.0,273.1 295.3,253.2 295.5,272.2 295.8,264.6 296.1,252.1 296.4,261.4 296.6,264.1 296.9,263.5 297.2,272.2 297.4,264.7 297.7,259.3 298.0,250.6 298.3,289.5 298.5,256.0 298.8,274.6 299.1,248.6 299.4,262.7 299.6,252.4 299.9,264.6 300.2,251.5 300.5,253.0 300.7,269.5 301.0,263.1 301.3,260.2 301.6,246.6 301.8,245.1 302.1,262.7 302.4,249.5 302.6,250.5 302.9,248.3 303.2,262.3 303.5,254.2 303.7,250.0 304.0,250.3 304.3,251.3 304.6,268.4 304.8,256.5 305.1,259.3 305.4,249.8 305.7,251.6 305.9,254.5 306.2,261.2 306.5,256.9 306.8,260.7 307.0,247.2 307.3,255.4 307.6,256.3 307.8,254.2 308.1,250.9 308.4,252.0 308.7,247.4 308.9,251.5 309.2,252.4 309.5,259.0 309.8,250.0 310.0,248.5 310.3,261.3 310.6,253.0 310.9,265.6 311.1,260.0 311.4,252.7 311.7,250.6 312.0,263.5 312.2,251.3 312.5,246.8 312.8,248.7 313.1,258.1 313.3,238.9 313.6,244.8 313.9,247.8 314.1,251.9 314.4,244.4 314.7,249.2 315.0,260.4 315.2,240.6 315.5,249.4 315.8,251.2 316.1,252.4 316.3,254.5 316.6,252.5 316.9,248.2 317.2,254.8 317.4,255.4 317.7,262.5 318.0,248.6 318.3,245.3 318.5,250.5 318.8,235.6 319.1,245.5 319.3,245.6 319.6,244.7 319.9,255.7 320.2,264.2 320.4,253.8 320.7,246.5 321.0,267.6 321.3,251.1 321.5,273.5 321.8,254.2 322.1,251.6 322.4,251.0 322.6,247.7 322.9,260.7 323.2,246.0 323.5,259.7 323.7,241.0 324.0,245.4 324.3,257.1 324.5,249.2 324.8,269.4 325.1,241.1 325.4,258.3 325.6,215.6 325.9,266.7 326.2,238.5 326.5,250.9 326.7,278.5 327.0,246.0 327.3,249.2 327.6,238.8 327.8,265.3 328.1,254.3 328.4,261.3 328.7,260.8 328.9,249.7 329.2,255.9 329.5,265.7 329.7,251.2 330.0,261.7 330.3,253.7 330.6,248.8 330.8,255.5 331.1,262.7 331.4,246.8 331.7,253.5 331.9,271.0 332.2,253.3 332.5,251.6 332.8,251.0 333.0,254.1 333.3,255.8 333.6,258.5 333.9,258.3 334.1,247.2 334.4,259.7 334.7,261.5 334.9,261.9 335.2,254.3 335.5,262.7 335.8,256.1 336.0,257.9 336.3,246.2 336.6,263.5 336.9,257.7 337.1,264.2 337.4,258.9 337.7,262.2 338.0,254.2 338.2,266.0 338.5,272.5 338.8,272.8 339.1,262.6 339.3,271.8 339.6,267.5 339.9,268.8 340.1,252.1 340.4,258.7 340.7,272.1 341.0,267.6 341.2,277.1 341.5,261.6 341.8,263.0 342.1,269.9 342.3,280.5 342.6,272.5 342.9,270.1 343.2,281.1 343.4,270.5 343.7,275.9 344.0,278.5 344.3,279.3 344.5,279.8 344.8,274.4 345.1,275.7 345.3,274.6 345.6,274.9 345.9,275.9 346.2,277.8 346.4,273.0 346.7,266.5 347.0,276.7 347.3,275.1 347.5,269.2 347.8,280.4 348.1,298.4 348.4,279.9 348.6,259.9 348.9,285.1 349.2,276.7 349.5,269.8 349.7,269.5 350.0,273.9 350.3,295.4 350.5,273.9 350.8,286.5 351.1,277.7 351.4,269.8 351.6,289.3 351.9,286.7 352.2,276.3 352.5,280.0 352.7,291.3 353.0,272.9 353.3,283.8 353.6,264.2 353.8,270.4 354.1,288.4 354.4,283.5 354.7,284.8 354.9,271.3 355.2,284.2 355.5,292.3 355.8,281.6 356.0,277.6 356.3,281.3 356.6,282.2 356.8,287.2 357.1,276.2 357.4,277.7 357.7,280.8 357.9,287.1 358.2,288.2 358.5,290.5 358.8,273.7 359.0,278.6 359.3,283.0 359.6,293.6 359.9,278.6 360.1,283.6 360.4,292.0 360.7,284.1 361.0,286.2 361.2,281.0 361.5,295.8 361.8,287.1 362.0,280.7 362.3,291.9 362.6,282.3 362.9,280.8 363.1,280.3 363.4,290.1 363.7,282.8 364.0,273.9 364.2,289.1 364.5,288.6 364.8,277.4 365.1,276.1 365.3,288.8 365.6,292.9 365.9,281.4 366.2,291.0 366.4,289.4 366.7,290.1 367.0,290.9 367.2,294.5 367.5,284.9 367.8,291.3 368.1,296.7 368.3,294.6 368.6,300.4 368.9,285.0 369.2,300.3 369.4,294.2 369.7,292.8 370.0,288.8 370.3,284.2 370.5,296.4 370.8,281.8 371.1,300.7 371.4,294.8 371.6,295.0 371.9,289.1 372.2,291.2 372.4,283.5 372.7,298.0 373.0,287.6 373.3,304.4 373.5,295.9 373.8,298.9 374.1,284.6 374.4,298.2 374.6,304.4 374.9,298.8 375.2,292.2 375.5,298.2 375.7,298.5 376.0,297.8 376.3,298.5 376.6,289.5 376.8,296.0 377.1,301.9 377.4,303.3 377.6,289.5 377.9,306.3 378.2,284.6 378.5,298.3 378.7,300.0 379.0,294.8 379.3,299.7 379.6,304.8 379.8,302.3 380.1,296.2 380.4,301.0 380.7,292.7 380.9,302.6 381.2,309.1 381.5,291.8 381.8,292.4 382.0,300.6 382.3,302.5 382.6,294.7 382.8,306.2 383.1,316.6 383.4,302.2 383.7,299.4 383.9,300.8 384.2,302.6 384.5,296.1 384.8,305.2 385.0,306.2 385.3,307.8 385.6,293.9 385.9,299.0 386.1,302.3 386.4,299.9 386.7,304.8 387.0,309.5 387.2,308.8 387.5,307.2 387.8,300.4 388.0,300.7 388.3,308.5 388.6,309.6 388.9,310.0 389.1,303.6 389.4,301.6 389.7,300.7 390.0,303.0 390.2,299.2 390.5,304.1 390.8,304.6 391.1,305.3 391.3,303.7 391.6,307.1 391.9,312.8 392.2,301.0 392.4,306.5 392.7,305.4 393.0,308.9 393.3,311.2 393.5,305.5 393.8,307.2 394.1,299.0 394.3,304.3 394.6,302.3 394.9,305.8 395.2,304.3 395.4,306.4 395.7,312.3 396.0,292.4 396.3,313.9 396.5,306.1 396.8,316.1 397.1,314.6 397.4,309.7 397.6,309.8 397.9,316.4 398.2,311.1 398.5,307.2 398.7,310.8 399.0,323.1 399.3,309.6 399.5,298.9 399.8,311.2 400.1,305.4 400.4,313.0 400.6,314.4 400.9,304.0 401.2,313.8 401.5,306.9 401.7,307.4 402.0,307.2 402.3,308.3 402.6,313.6 402.8,312.0 403.1,315.9 403.4,308.0 403.7,313.5 403.9,308.7 404.2,317.1 404.5,317.2 404.7,308.7 405.0,306.9 405.3,312.0 405.6,320.7 405.8,309.2 406.1,308.4 406.4,310.4 406.7,316.5 406.9,300.1 407.2,300.9 407.5,307.0 407.8,315.9 408.0,316.9 408.3,312.1 408.6,317.1 408.9,315.2 409.1,312.0 409.4,307.2 409.7,317.8 409.9,308.8 410.2,315.8 410.5,312.1 410.8,311.2 411.0,314.8 411.3,312.2 411.6,315.5 411.9,318.0 412.1,316.9 412.4,321.4 412.7,309.7 413.0,316.9 413.2,311.6 413.5,309.2 413.8,307.4 414.1,316.0 414.3,318.9 414.6,315.1 414.9,311.7 415.1,314.0 415.4,313.3 415.7,306.2 416.0,320.4 416.2,307.6 416.5,313.9 416.8,310.8 417.1,316.7 417.3,309.4 417.6,321.3 417.9,315.4 418.2,309.7 418.4,315.3 418.7,322.3 419.0,314.2 419.3,313.5 419.5,307.2 419.8,316.3 420.1,312.0 420.3,317.1 420.6,310.2 420.9,318.6 421.2,323.0 421.4,311.7 421.7,320.5 422.0,317.5 422.3,316.5 422.5,307.4 422.8,311.7 423.1,306.8 423.4,317.4 423.6,315.1 423.9,316.4 424.2,302.1 424.5,317.7 424.7,312.0 425.0,315.2 425.3,311.8 425.5,308.5 425.8,323.2 426.1,315.7 426.4,321.2 426.6,315.3 426.9,319.6 427.2,320.3 427.5,314.9 427.7,316.7 428.0,310.3 428.3,310.6 428.6,313.4 428.8,314.9 429.1,320.4 429.4,313.9 429.7,312.1 429.9,319.6 430.2,310.8 430.5,318.6 430.7,312.3 431.0,316.6 431.3,313.3 431.6,316.7 431.8,323.9 432.1,319.5 432.4,312.6 432.7,312.7 432.9,323.1 433.2,311.1 433.5,315.6 433.8,319.7 434.0,321.2 434.3,315.5 434.6,312.8 434.9,326.9 435.1,317.7 435.4,313.4 435.7,316.1 436.0,315.6 436.2,318.6 436.5,317.0 436.8,315.8 437.0,324.7 437.3,320.8 437.6,317.9 437.9,310.5 438.1,317.2 438.4,326.2 438.7,312.9 439.0,313.5 439.2,315.5 439.5,318.1 439.8,313.0 440.1,320.9 440.3,314.3 440.6,307.0 440.9,320.4 441.2,319.8 441.4,317.7 441.7,312.7 442.0,323.3 442.2,314.8 442.5,319.0 442.8,318.2 443.1,320.5 443.3,323.6 443.6,317.6 443.9,316.1 444.2,323.5 444.4,316.5 444.7,316.8 445.0,308.2 445.3,315.3 445.5,312.4 445.8,325.6 446.1,315.3 446.4,316.1 446.6,317.1 446.9,318.3 447.2,324.0 447.4,313.4 447.7,334.0 448.0,317.3 448.3,318.0 448.5,304.1 448.8,316.7 449.1,317.1 449.4,323.0 449.6,317.9 449.9,315.3 450.2,323.7 450.5,321.2 450.7,318.0 451.0,315.9 451.3,319.3 451.6,319.6 451.8,328.1 452.1,322.1 452.4,324.4 452.6,321.4 452.9,319.0 453.2,318.9 453.5,313.3 453.7,327.3 454.0,309.5 454.3,322.8 454.6,308.9 454.8,324.8 455.1,319.0 455.4,317.6 455.7,317.1 455.9,316.2 456.2,313.8 456.5,316.2 456.8,318.7 457.0,321.9 457.3,318.6 457.6,320.9 457.8,322.3 458.1,317.0 458.4,315.2 458.7,325.4 458.9,322.1 459.2,316.7 459.5,322.5 459.8,321.4 460.0,314.0 460.3,320.9 460.6,327.5 460.9,314.1 461.1,321.9 461.4,315.4 461.7,313.2 462.0,313.2 462.2,317.6 462.5,316.2 462.8,323.5 463.0,320.2 463.3,318.7 463.6,316.5 463.9,324.2 464.1,316.5 464.4,318.4 464.7,310.7 465.0,329.9 465.2,309.5 465.5,325.4 465.8,315.7 466.1,321.0 466.3,324.0 466.6,316.6 466.9,323.1 467.2,321.2 467.4,319.0 467.7,320.4 468.0,318.0 468.2,329.0 468.5,317.9 468.8,318.6 469.1,322.5 469.3,324.2 469.6,321.2 469.9,324.8 470.2,323.2 470.4,322.3 470.7,319.9 471.0,314.4 471.3,323.5 471.5,325.7 471.8,325.8 472.1,322.6 472.4,321.7 472.6,321.2 472.9,310.7 473.2,322.9 473.5,321.2 473.7,321.8 474.0,322.5 474.3,310.4 474.5,325.0 474.8,318.0 475.1,307.7 475.4,320.8 475.6,325.5 475.9,324.0 476.2,315.8 476.5,322.8 476.7,320.6 477.0,329.3 477.3,329.4 477.6,315.5 477.8,315.3 478.1,322.7 478.4,323.1 478.7,321.6 478.9,317.5 479.2,317.1 479.5,320.3 479.7,327.7 480.0,321.2 480.3,318.6 480.6,321.2 480.8,322.3 481.1,321.3 481.4,319.9 481.7,327.9 481.9,316.6 482.2,324.6 482.5,319.3 482.8,312.8 483.0,321.2 483.3,318.1 483.6,319.4 483.9,312.7 484.1,316.7 484.4,318.8 484.7,315.4 484.9,320.6 485.2,314.3 485.5,313.4 485.8,318.8 486.0,320.3 486.3,320.4 486.6,328.4 486.9,318.1 487.1,315.9 487.4,317.9 487.7,320.1 488.0,319.0 488.2,334.7 488.5,318.9 488.8,318.0 489.1,321.1 489.3,319.6 489.6,320.3 489.9,330.7 490.1,319.3 490.4,313.3 490.7,322.9 491.0,322.7 491.2,323.3 491.5,321.5 491.8,323.2 492.1,345.6 492.3,325.4 492.6,317.1 492.9,317.4 493.2,319.3 493.4,318.6 493.7,315.9 494.0,322.0 494.3,315.7 494.5,324.2 494.8,314.3 495.1,317.7 495.3,324.6 495.6,324.4 495.9,323.3 496.2,313.7 496.4,324.2 496.7,318.3 497.0,321.1 497.3,319.0 497.5,321.8 497.8,316.5 498.1,319.8 498.4,323.6 498.6,331.9 498.9,318.4 499.2,323.9 499.5,318.7 499.7,317.5 500.0,323.2 500.3,318.2 500.5,322.6 500.8,319.7 501.1,319.5 501.4,312.3 501.6,321.9 501.9,323.0 502.2,322.2 502.5,320.5 502.7,321.7 503.0,330.5 503.3,317.8 503.6,323.3 503.8,326.7 504.1,319.9 504.4,318.8 504.7,319.9 504.9,316.5 505.2,321.4 505.5,322.3 505.7,323.6 506.0,326.8 506.3,318.4 506.6,321.3 506.8,321.3 507.1,313.8 507.4,320.0 507.7,321.0 507.9,322.3 508.2,328.6 508.5,320.1 508.8,330.6 509.0,313.8 509.3,327.5 509.6,325.0 509.9,321.0 510.1,319.8 510.4,312.9 510.7,323.0 510.9,318.7 511.2,312.1 511.5,317.1 511.8,326.0 512.0,309.0 512.3,317.2 512.6,320.7 512.9,324.5 513.1,321.5 513.4,319.5 513.7,322.2 514.0,315.9 514.2,322.0 514.5,320.3 514.8,323.8 515.1,321.8 515.3,321.1 515.6,321.6 515.9,328.0 516.2,323.0 516.4,316.3 516.7,323.7 517.0,325.5 517.2,320.6 517.5,311.9 517.8,319.2 518.1,325.9 518.3,322.6 518.6,314.8 518.9,319.9 519.2,326.1 519.4,326.1 519.7,320.7 520.0,307.0 520.3,315.8 520.5,325.1 520.8,318.6 521.1,323.1 521.4,316.2 521.6,319.6 521.9,322.8 522.2,311.0 522.4,316.6 522.7,321.6 523.0,320.9 523.3,329.2 523.5,321.9 523.8,326.0 524.1,322.9 524.4,322.2 524.6,318.5 524.9,321.8 525.2,327.0 525.5,323.1 525.7,324.2 526.0,324.8 526.3,324.7 526.6,324.0 526.8,322.1 527.1,315.6 527.4,315.1 527.6,318.1 527.9,318.6 528.2,327.5 528.5,324.3 528.7,327.4 529.0,327.9 529.3,323.3 529.6,320.9 529.8,324.2 530.1,322.3 530.4,317.1 530.7,317.5 530.9,321.6 531.2,322.9 531.5,321.7 531.8,319.7 532.0,321.7 532.3,323.8 532.6,319.4 532.8,321.1 533.1,320.4 533.4,313.4 533.7,310.1 533.9,323.0 534.2,313.8 534.5,318.9 534.8,322.0 535.0,321.6 535.3,319.0 535.6,326.0 535.9,328.6 536.1,318.7 536.4,320.4 536.7,318.5 537.0,314.9 537.2,316.5 537.5,328.6 537.8,321.8 538.0,320.6 538.3,325.9 538.6,319.6 538.9,314.4 539.1,322.7 539.4,323.1 539.7,326.6 540.0,319.4 540.2,322.4 540.5,321.7 540.8,317.3 541.1,315.0 541.3,315.4 541.6,327.7 541.9,318.1 542.2,315.1 542.4,319.0 542.7,319.8 543.0,321.6 543.2,321.0 543.5,321.8 543.8,322.6 544.1,328.4 544.3,326.6 544.6,329.0 544.9,307.1 545.2,322.5 545.4,321.6 545.7,319.9 546.0,323.5 546.3,320.2 546.5,325.5 546.8,319.4 547.1,315.5 547.4,318.1 547.6,320.9 547.9,322.5 548.2,315.4 548.4,319.1 548.7,318.6 549.0,322.3 549.3,324.6 549.5,319.9 549.8,321.4 550.1,316.9 550.4,319.0 550.6,325.3 550.9,325.4 551.2,321.5 551.5,321.8 551.7,321.9 552.0,318.6 552.3,318.8 552.6,317.4 552.8,326.9 553.1,325.8 553.4,327.0 553.7,317.6 553.9,323.8 554.2,320.6 554.5,318.4 554.7,325.6 555.0,320.5" fill="none" stroke="#000" stroke-opacity="0.72" stroke-width="0.6" stroke-linejoin="round"/>
<rect x="76.1" y="7.9" width="479.2" height="354.1" fill="none" stroke="#222" stroke-width="1.7"/>
<g stroke="#222" stroke-width="1.6"><line x1="76.1" y1="347.50" x2="83.70" y2="347.50"/><line x1="76.1" y1="319.20" x2="79.90" y2="319.20"/><line x1="76.1" y1="290.91" x2="83.70" y2="290.91"/><line x1="76.1" y1="262.62" x2="79.90" y2="262.62"/><line x1="76.1" y1="234.32" x2="83.70" y2="234.32"/><line x1="76.1" y1="206.03" x2="79.90" y2="206.03"/><line x1="76.1" y1="177.73" x2="83.70" y2="177.73"/><line x1="76.1" y1="149.44" x2="79.90" y2="149.44"/><line x1="76.1" y1="121.14" x2="83.70" y2="121.14"/><line x1="76.1" y1="92.85" x2="79.90" y2="92.85"/><line x1="76.1" y1="64.55" x2="83.70" y2="64.55"/><line x1="76.1" y1="36.25" x2="79.90" y2="36.25"/><line x1="110.31" y1="362" x2="110.31" y2="359.80"/><line x1="144.53" y1="362" x2="144.53" y2="358.00"/><line x1="178.75" y1="362" x2="178.75" y2="359.80"/><line x1="212.96" y1="362" x2="212.96" y2="358.00"/><line x1="247.17" y1="362" x2="247.17" y2="359.80"/><line x1="281.39" y1="362" x2="281.39" y2="358.00"/><line x1="315.61" y1="362" x2="315.61" y2="359.80"/><line x1="349.82" y1="362" x2="349.82" y2="358.00"/><line x1="384.03" y1="362" x2="384.03" y2="359.80"/><line x1="418.25" y1="362" x2="418.25" y2="358.00"/><line x1="452.47" y1="362" x2="452.47" y2="359.80"/><line x1="486.68" y1="362" x2="486.68" y2="358.00"/><line x1="520.89" y1="362" x2="520.89" y2="359.80"/></g>
<!-- inset -->
<rect x="262" y="9.5" width="289.5" height="211" fill="#fff"/>
<path d="M314,10.2 H550.5 V185.4" fill="none" stroke="#333" stroke-width="1.1"/>
<line x1="313.9" y1="10" x2="313.9" y2="185.4" stroke="#777" stroke-width="1.1"/>
<line x1="313.4" y1="185.4" x2="551" y2="185.4" stroke="#111" stroke-width="1.1"/>
<g stroke="#444" stroke-width="1"><line x1="314" y1="181.40" x2="316.00" y2="181.40"/><line x1="314" y1="159.40" x2="317.80" y2="159.40"/><line x1="314" y1="137.40" x2="316.00" y2="137.40"/><line x1="314" y1="115.40" x2="317.80" y2="115.40"/><line x1="314" y1="93.40" x2="316.00" y2="93.40"/><line x1="314" y1="71.40" x2="317.80" y2="71.40"/><line x1="314" y1="49.40" x2="316.00" y2="49.40"/><line x1="314" y1="27.40" x2="317.80" y2="27.40"/><line x1="334.80" y1="185.4" x2="334.80" y2="182.40"/><line x1="374.30" y1="185.4" x2="374.30" y2="183.40"/><line x1="413.80" y1="185.4" x2="413.80" y2="182.40"/><line x1="453.30" y1="185.4" x2="453.30" y2="183.40"/><line x1="492.80" y1="185.4" x2="492.80" y2="182.40"/><line x1="532.30" y1="185.4" x2="532.30" y2="183.40"/></g>
<path d="M314,145.6 C317.50,144.87 327.95,142.63 335.00,141.20 C342.05,139.77 349.13,138.45 356.30,137.00 C363.47,135.55 370.93,134.05 378.00,132.50 C385.07,130.95 393.37,128.83 398.70,127.70 C404.03,126.57 407.12,126.13 410.00,125.70 C412.88,125.27 414.33,125.17 416.00,125.10 C417.67,125.03 418.75,125.10 420.00,125.30 C421.25,125.50 422.17,125.63 423.50,126.30 C424.83,126.97 426.65,128.63 428.00,129.30 C429.35,129.97 430.10,130.25 431.60,130.30 C433.10,130.35 434.77,129.93 437.00,129.60 C439.23,129.27 441.75,128.78 445.00,128.30 C448.25,127.82 454.00,127.15 456.50,126.70 C459.00,126.25 459.00,126.17 460.00,125.60 C461.00,125.03 461.82,124.52 462.50,123.30 C463.18,122.08 463.50,120.90 464.10,118.30 C464.70,115.70 465.45,111.43 466.10,107.70 C466.75,103.97 467.48,99.35 468.00,95.90 C468.52,92.45 468.75,90.65 469.20,87.00 C469.65,83.35 470.20,79.02 470.70,74.00 C471.20,68.98 471.75,61.80 472.20,56.90 C472.65,52.00 473.03,47.92 473.40,44.60 C473.77,41.28 474.07,38.73 474.40,37.00 C474.73,35.27 475.05,34.37 475.40,34.20 C475.75,34.03 476.08,34.27 476.50,36.00 C476.92,37.73 477.38,41.12 477.90,44.60 C478.42,48.08 478.83,50.35 479.60,56.90 C480.37,63.45 481.72,77.88 482.50,83.90 C483.28,89.92 483.77,89.98 484.30,93.00 C484.83,96.02 485.15,99.25 485.70,102.00 C486.25,104.75 486.88,107.53 487.60,109.50 C488.32,111.47 489.25,112.88 490.00,113.80 C490.75,114.72 491.27,115.00 492.10,115.00 C492.93,115.00 493.73,114.58 495.00,113.80 C496.27,113.02 497.97,110.45 499.70,110.30 C501.43,110.15 503.40,112.27 505.40,112.90 C507.40,113.53 508.53,114.32 511.70,114.10 C514.87,113.88 520.17,112.33 524.40,111.60 C528.63,110.87 532.75,110.27 537.10,109.70 C541.45,109.13 548.27,108.45 550.50,108.20" fill="none" stroke="#111" stroke-width="1.1"/>
<g stroke="#f21c1c" stroke-width="0.95" stroke-dasharray="3 1.6" fill="none">
<line x1="356" y1="137" x2="438.5" y2="118"/>
<line x1="394.5" y1="113.1" x2="430" y2="128"/>
<line x1="430" y1="129.2" x2="475.5" y2="125"/>
<line x1="470.3" y1="80" x2="461.7" y2="138.6"/>
</g>
<line x1="419" y1="102.3" x2="419" y2="117" stroke="#111" stroke-width="0.8"/>
<path d="M417.6,116.3 L420.4,116.3 L419,121 Z" fill="#111"/>
<line x1="465.4" y1="127.8" x2="476.2" y2="138.6" stroke="#111" stroke-width="1.2"/>
<g filter="url(#gs)" fill="#111">
<g class="sans" font-size="14" text-anchor="end"><text x="67.6" y="351.60">0</text><text x="67.6" y="295.01">100</text><text x="67.6" y="238.42">200</text><text x="67.6" y="181.83">300</text><text x="67.6" y="125.24">400</text><text x="67.6" y="68.65">500</text><text x="67.6" y="12.06">600</text></g>
<g class="sans" font-size="14" text-anchor="middle"><text x="76.10" y="376.8">10</text><text x="144.53" y="376.8">20</text><text x="212.96" y="376.8">30</text><text x="281.39" y="376.8">40</text><text x="349.82" y="376.8">50</text><text x="418.25" y="376.8">60</text><text x="486.68" y="376.8">70</text><text x="555.11" y="376.8">80</text></g>
<text class="serif" font-size="22.5" x="257.5" y="400.4" transform="translate(257.5 0) scale(1.078 1) translate(-257.5 0)">2θ [degree]</text>
<text class="serif" font-size="24.7" transform="translate(23 264.6) rotate(-90)">Intensity [a.u.]</text>
<text class="serif" font-size="20" x="98.3" y="40.4" transform="translate(98.3 0) scale(1.042 1) translate(-98.3 0)">LNBO (x = 0.5)</text>
<g class="sans" font-size="8.4" text-anchor="end" fill="#1a1a1a" stroke="#1a1a1a" stroke-width="0.3"><text x="309.5" y="30.30" transform="translate(309.5 0) scale(0.94 1) translate(-309.5 0)">0.15</text><text x="309.5" y="74.30" transform="translate(309.5 0) scale(0.94 1) translate(-309.5 0)">0.10</text><text x="309.5" y="118.30" transform="translate(309.5 0) scale(0.94 1) translate(-309.5 0)">0.05</text><text x="309.5" y="162.30" transform="translate(309.5 0) scale(0.94 1) translate(-309.5 0)">0.00</text></g>
<g class="sans" font-size="8.2" text-anchor="middle" fill="#1a1a1a" stroke="#1a1a1a" stroke-width="0.3"><text x="334.80" y="195.2" transform="translate(334.80 0) scale(0.94 1) translate(-334.80 0)">600</text><text x="413.80" y="195.2" transform="translate(413.80 0) scale(0.94 1) translate(-413.80 0)">700</text><text x="492.80" y="195.2" transform="translate(492.80 0) scale(0.94 1) translate(-492.80 0)">800</text></g>
<text class="serif" font-size="12" x="329" y="28.6" stroke="#111" stroke-width="0.2">heating rate : 2 K/min</text>
<text class="serif" font-size="14.6" stroke="#111" stroke-width="0.25" transform="translate(279.5 149.6) rotate(-90)">Exothermic [a.u.]</text>
<text class="serif" font-size="14.4" x="380.5" y="215.7" stroke="#111" stroke-width="0.25">Temperature [K]</text>
<text class="serif" font-size="12" x="415.6" y="96.9" stroke="#111" stroke-width="0.3">T</text>
<text class="serif" font-size="7.8" x="422.6" y="101.6" stroke="#111" stroke-width="0.2">g</text>
<text class="serif" font-size="12" x="477.3" y="143.1" stroke="#111" stroke-width="0.3">T</text>
<text class="serif" font-size="7.5" x="485" y="148.3" stroke="#111" stroke-width="0.2">c</text>
</g>
</svg>
</body></html>
